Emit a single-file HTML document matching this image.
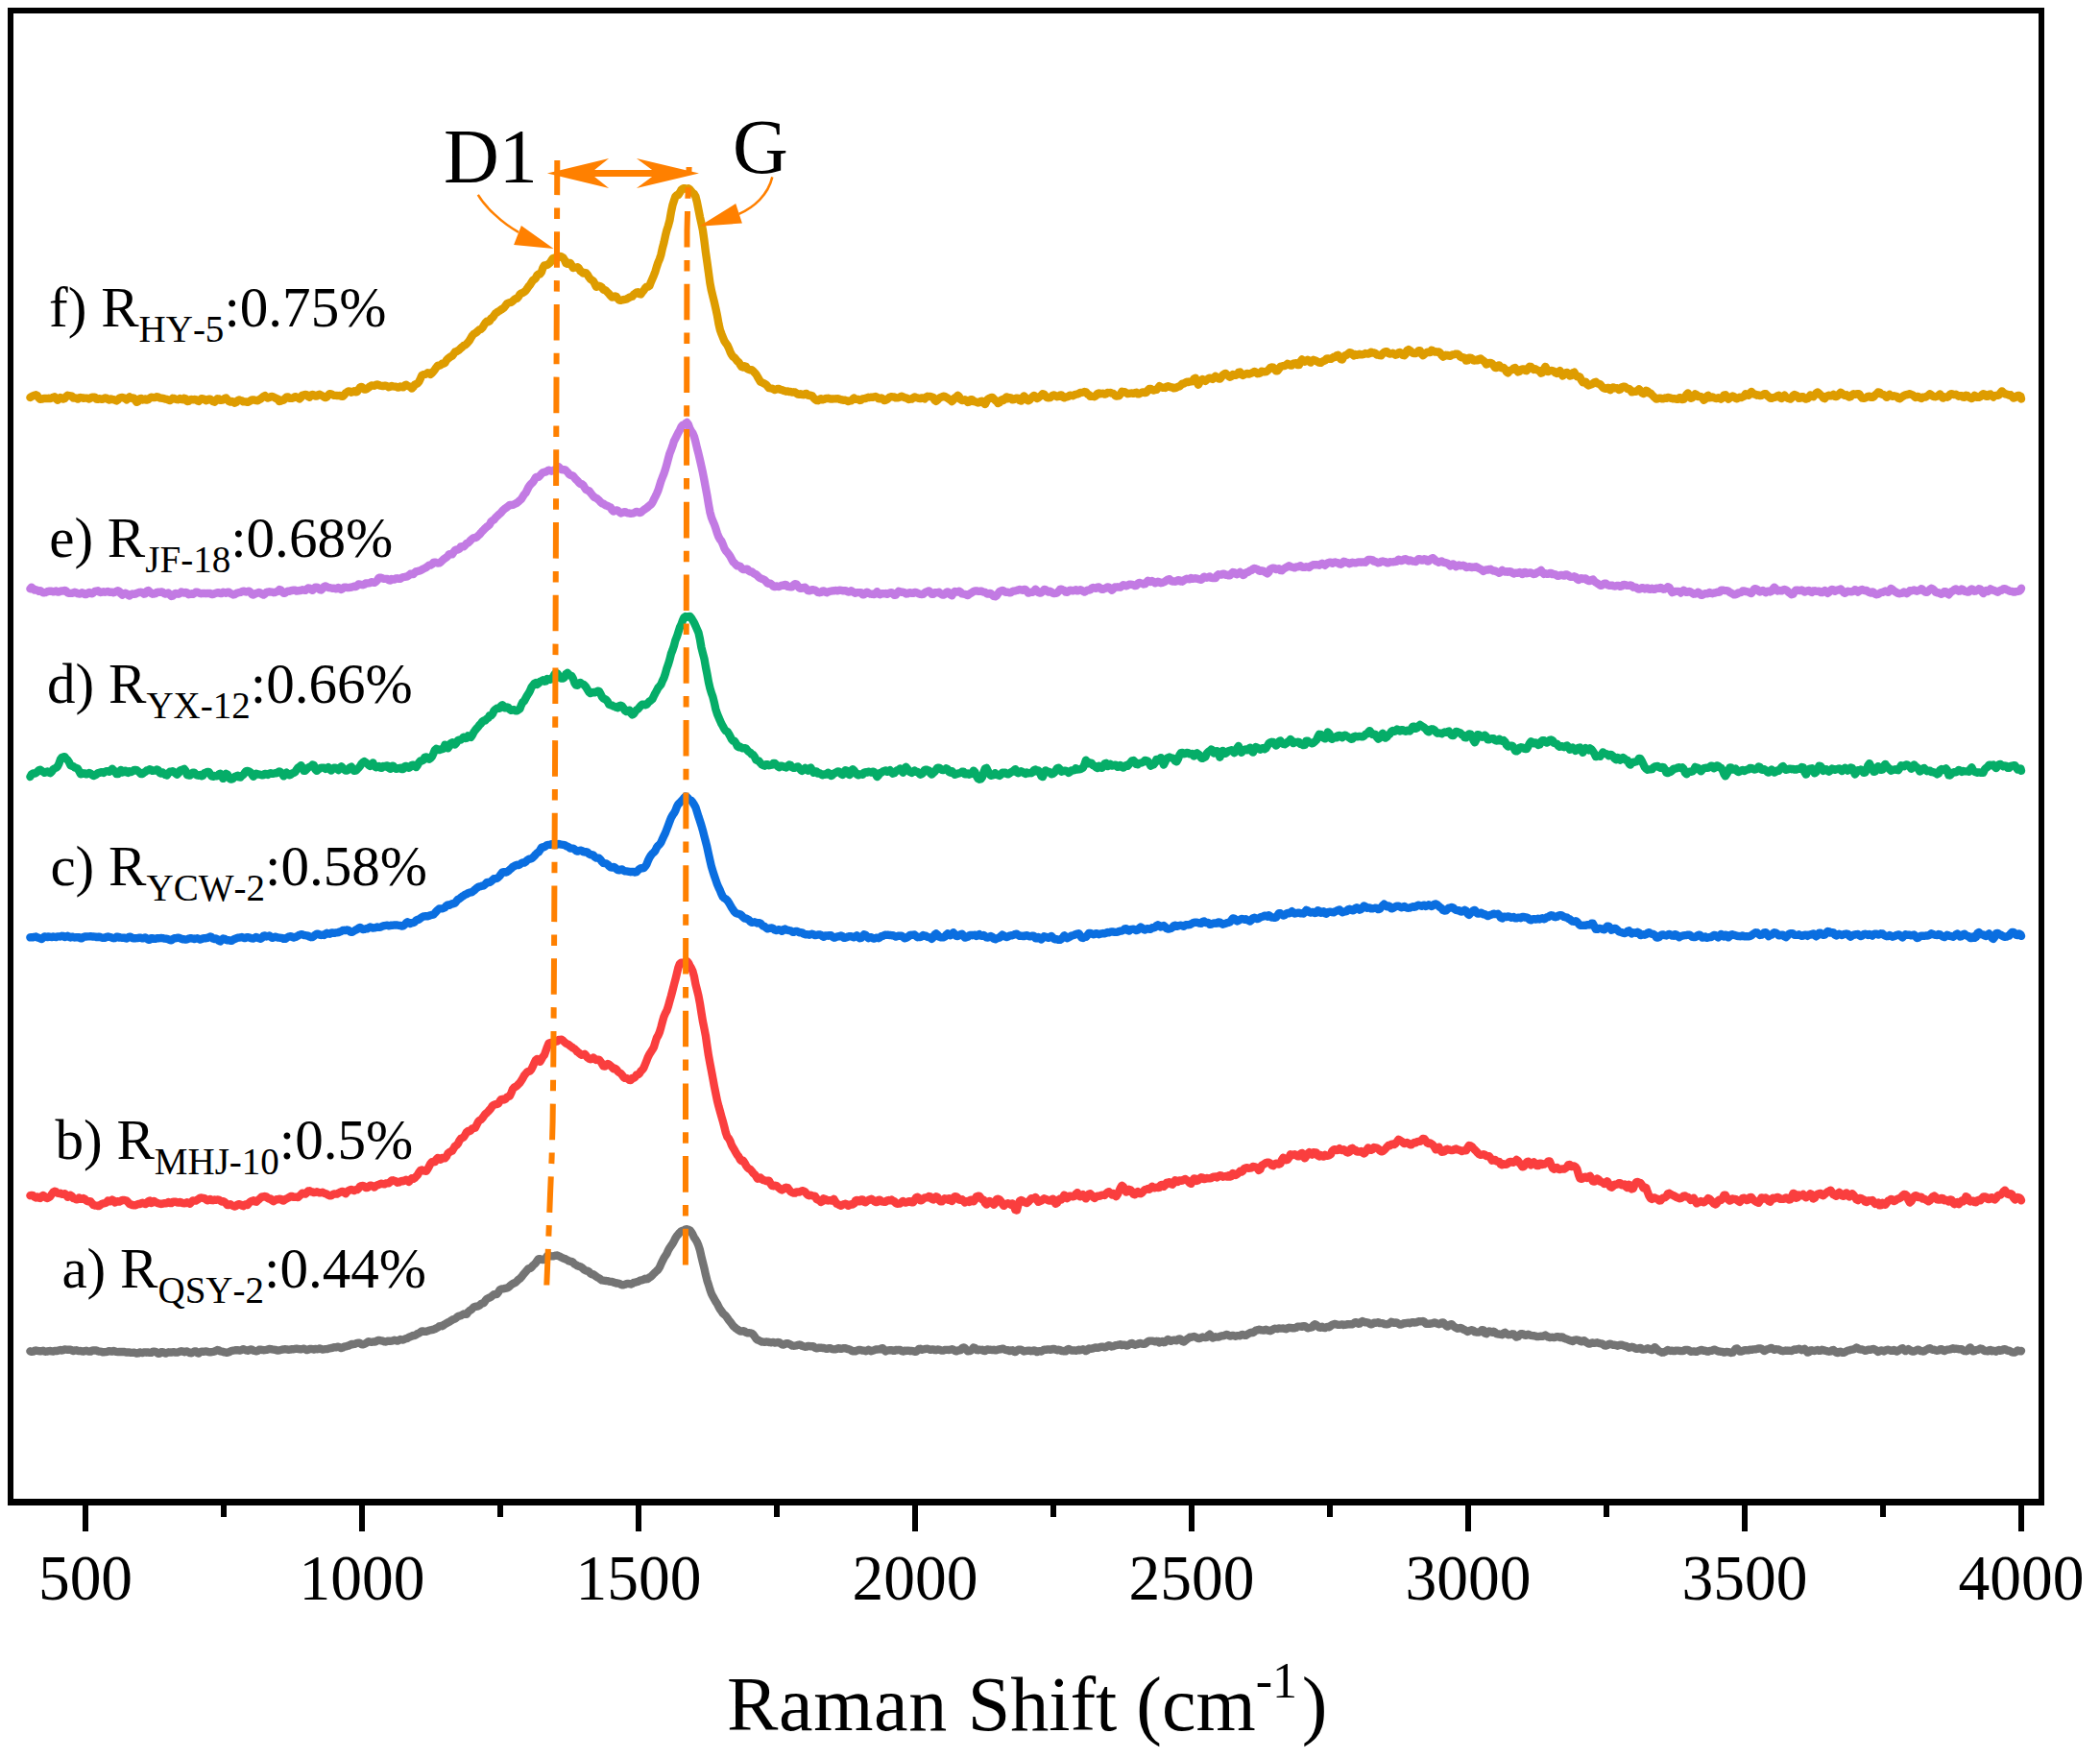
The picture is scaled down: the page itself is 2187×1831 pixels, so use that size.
<!DOCTYPE html>
<html lang="en"><head><meta charset="utf-8"><title>Raman Shift</title>
<style>html,body{margin:0;padding:0;background:#fff;}body{width:2187px;height:1831px;overflow:hidden;}svg{display:block;}text{font-kerning:none;font-family:"Liberation Serif",serif;fill:#000;}</style>
</head><body>
<svg width="2187" height="1831" viewBox="0 0 2187 1831">
<rect width="2187" height="1831" fill="#fff"/>
<g fill="none" stroke-width="8.4" stroke-linecap="round" stroke-linejoin="round">
<path stroke="#747474" d="M31.4,1407.3 32.9,1407.9 34.4,1407.7 35.9,1406.9 37.4,1406.5 38.9,1406.8 40.4,1407.2 41.9,1407.4 43.4,1407.1 44.9,1406.8 46.4,1407.6 47.9,1407.7 49.4,1407.5 50.9,1407.1 52.4,1407.0 53.9,1407.4 55.4,1407.5 56.9,1407.0 58.4,1407.0 59.9,1407.0 61.4,1406.3 62.9,1406.0 64.4,1406.5 65.9,1406.1 67.4,1405.5 68.9,1405.7 70.4,1405.9 71.9,1405.6 73.4,1405.6 74.9,1406.5 76.4,1407.0 77.9,1406.5 79.4,1406.3 80.9,1406.8 82.4,1407.1 83.9,1407.0 85.4,1407.4 86.9,1407.6 88.4,1407.1 89.9,1406.8 91.4,1407.2 92.9,1407.6 94.4,1407.6 95.9,1406.7 97.4,1406.5 98.9,1406.4 100.4,1406.4 101.9,1407.2 103.4,1407.6 104.9,1407.6 106.4,1408.2 107.9,1408.3 109.4,1408.1 110.9,1408.0 112.4,1407.6 113.9,1407.1 115.4,1407.5 116.9,1407.5 118.4,1406.9 119.9,1407.4 121.4,1407.9 122.9,1408.1 124.4,1407.9 125.9,1408.0 127.4,1408.0 128.9,1407.9 130.4,1408.3 131.9,1408.5 133.4,1408.4 134.9,1408.5 136.4,1408.9 137.9,1408.9 139.4,1408.6 140.9,1409.0 142.4,1409.6 143.9,1409.4 145.4,1408.4 146.9,1408.8 148.4,1409.0 149.9,1408.5 151.4,1408.4 152.9,1408.7 154.4,1408.5 155.9,1408.9 157.4,1408.9 158.9,1407.9 160.4,1407.6 161.9,1407.8 163.4,1408.8 164.9,1409.9 166.4,1409.6 167.9,1408.1 169.4,1408.1 170.9,1409.1 172.4,1409.6 173.9,1408.9 175.4,1408.3 176.9,1408.5 178.4,1408.5 179.9,1408.3 181.4,1408.2 182.9,1408.6 184.4,1408.6 185.9,1408.2 187.4,1407.6 188.9,1407.2 190.4,1407.6 191.9,1408.2 193.4,1407.7 194.9,1407.5 196.4,1408.4 197.9,1409.1 199.4,1409.2 200.9,1408.4 202.4,1407.4 203.9,1407.5 205.4,1409.0 206.9,1409.5 208.4,1408.2 209.9,1407.7 211.4,1407.9 212.9,1407.6 214.4,1407.5 215.9,1407.7 217.4,1408.1 218.9,1408.4 220.4,1408.1 221.9,1407.9 223.4,1407.5 224.9,1406.9 226.4,1406.0 227.9,1406.3 229.4,1407.4 230.9,1407.6 232.4,1407.9 233.9,1408.4 235.4,1408.7 236.9,1408.7 238.4,1408.3 239.9,1407.5 241.4,1406.8 242.9,1406.6 244.4,1406.4 245.9,1406.1 247.4,1406.2 248.9,1406.5 250.4,1406.5 251.9,1405.8 253.4,1405.2 254.9,1405.8 256.4,1406.4 257.9,1406.7 259.4,1406.2 260.9,1405.4 262.4,1405.6 263.9,1406.7 265.4,1407.0 266.9,1407.3 268.4,1407.0 269.9,1405.8 271.4,1405.7 272.9,1406.0 274.4,1406.2 275.9,1406.1 277.4,1405.9 278.9,1405.4 280.4,1404.9 281.9,1405.1 283.4,1405.4 284.9,1405.6 286.4,1405.8 287.9,1406.3 289.4,1406.5 290.9,1406.3 292.4,1406.0 293.9,1405.7 295.4,1405.4 296.9,1405.3 298.4,1405.4 299.9,1405.7 301.4,1405.7 302.9,1405.5 304.4,1405.1 305.9,1405.3 307.4,1404.9 308.9,1404.7 310.4,1405.0 311.9,1405.2 313.4,1405.3 314.9,1405.0 316.4,1404.7 317.9,1405.3 319.4,1406.1 320.9,1405.7 322.4,1405.0 323.9,1404.9 325.4,1405.1 326.9,1405.6 328.4,1405.0 329.9,1405.2 331.4,1405.1 332.9,1404.5 334.4,1405.0 335.9,1405.5 337.4,1405.3 338.9,1405.1 340.4,1405.1 341.9,1404.7 343.4,1404.3 344.9,1404.0 346.4,1403.8 347.9,1403.3 349.4,1403.4 350.9,1402.9 352.4,1402.6 353.9,1403.4 355.4,1404.1 356.9,1403.6 358.4,1402.7 359.9,1402.4 361.4,1401.9 362.9,1401.6 364.4,1400.9 365.9,1400.0 367.4,1400.2 368.9,1399.9 370.4,1399.4 371.9,1398.8 373.4,1398.6 374.9,1399.1 376.4,1400.1 377.9,1400.4 379.4,1399.8 380.9,1399.2 382.4,1398.1 383.9,1397.2 385.4,1397.6 386.9,1397.8 388.4,1397.5 389.9,1397.5 391.4,1397.3 392.9,1396.3 394.4,1395.9 395.9,1396.2 397.4,1396.5 398.9,1396.7 400.4,1397.4 401.9,1397.5 403.4,1396.8 404.9,1396.7 406.4,1396.9 407.9,1396.7 409.4,1396.3 410.9,1395.8 412.4,1396.2 413.9,1396.6 415.4,1395.9 416.9,1395.0 418.4,1395.3 419.9,1395.5 421.4,1394.8 422.9,1394.1 424.4,1393.8 425.9,1392.8 427.4,1392.3 428.9,1391.6 430.4,1390.9 431.9,1391.0 433.4,1390.1 434.9,1389.0 436.4,1388.6 437.9,1387.6 439.4,1386.4 440.9,1386.5 442.4,1386.9 443.9,1386.8 445.4,1386.3 446.9,1385.7 448.4,1385.3 449.9,1385.0 451.4,1384.8 452.9,1384.1 454.4,1383.4 455.9,1382.6 457.4,1381.3 458.9,1381.0 460.4,1381.2 461.9,1380.3 463.4,1379.1 464.9,1378.3 466.4,1377.4 467.9,1376.7 469.4,1375.7 470.9,1374.8 472.4,1374.0 473.9,1373.7 475.4,1372.4 476.9,1371.0 478.4,1370.6 479.9,1370.2 481.4,1369.4 482.9,1368.5 484.4,1368.9 485.9,1368.8 487.4,1366.6 488.9,1365.2 490.4,1364.3 491.9,1363.0 493.4,1361.4 494.9,1360.8 496.4,1360.8 497.9,1360.4 499.4,1359.6 500.9,1358.0 502.4,1357.5 503.9,1357.0 505.4,1354.7 506.9,1352.9 508.4,1352.1 509.9,1351.5 511.4,1350.8 512.9,1349.4 514.4,1348.1 515.9,1348.0 517.4,1348.1 518.9,1346.1 520.4,1343.5 521.9,1342.7 523.4,1342.4 524.9,1342.1 526.4,1341.7 527.9,1341.6 529.4,1340.8 530.9,1339.5 532.4,1338.2 533.9,1337.1 535.4,1336.4 536.9,1335.7 538.4,1334.3 539.9,1332.8 541.4,1331.8 542.9,1330.2 544.4,1328.2 545.9,1326.3 547.4,1324.7 548.9,1322.8 550.4,1321.2 551.9,1321.1 553.4,1320.0 554.9,1318.2 556.4,1316.9 557.9,1315.3 559.4,1313.1 560.9,1311.2 562.4,1311.2 563.9,1311.8 565.4,1312.1 566.9,1311.8 568.4,1310.4 569.9,1308.2 571.4,1307.3 572.9,1308.0 574.4,1308.4 575.9,1308.4 577.4,1308.0 578.9,1307.6 580.4,1307.5 581.9,1308.2 583.4,1308.9 584.9,1309.7 586.4,1310.4 587.9,1310.9 589.4,1311.6 590.9,1312.4 592.4,1313.3 593.9,1313.8 595.4,1313.9 596.9,1315.0 598.4,1316.6 599.9,1317.4 601.4,1318.3 602.9,1318.9 604.4,1319.3 605.9,1320.1 607.4,1321.5 608.9,1322.8 610.4,1323.5 611.9,1323.7 613.4,1324.6 614.9,1326.3 616.4,1327.3 617.9,1327.2 619.4,1328.4 620.9,1329.5 622.4,1330.5 623.9,1331.2 625.4,1332.4 626.9,1333.4 628.4,1333.6 629.9,1333.8 631.4,1334.0 632.9,1334.1 634.4,1334.7 635.9,1334.9 637.4,1335.0 638.9,1335.5 640.4,1336.1 641.9,1336.6 643.4,1336.5 644.9,1336.8 646.4,1337.7 647.9,1338.2 649.4,1338.2 650.9,1337.8 652.4,1337.2 653.9,1336.9 655.4,1337.2 656.9,1337.5 658.4,1336.9 659.9,1335.9 661.4,1335.6 662.9,1335.2 664.4,1334.9 665.9,1334.0 667.4,1333.4 668.9,1333.3 670.4,1332.6 671.9,1331.8 673.4,1332.2 674.9,1332.0 676.4,1330.4 677.9,1329.7 679.4,1328.1 680.9,1326.5 682.4,1325.1 683.9,1323.6 685.4,1322.4 686.9,1319.9 688.4,1316.6 689.9,1313.3 691.4,1310.3 692.9,1308.0 694.4,1305.7 695.9,1302.3 697.4,1299.6 698.9,1297.5 700.4,1295.3 701.9,1292.7 703.4,1289.6 704.9,1287.3 706.4,1285.6 707.9,1283.7 709.4,1282.3 710.9,1281.9 712.4,1281.3 713.9,1280.4 715.4,1280.3 716.9,1280.7 718.4,1281.3 719.9,1283.1 721.4,1285.7 722.9,1288.9 724.4,1291.0 725.9,1293.6 727.4,1297.2 728.9,1301.9 730.4,1308.6 731.9,1314.8 733.4,1320.7 734.9,1327.6 736.4,1333.6 737.9,1338.1 739.4,1343.1 740.9,1347.3 742.4,1350.3 743.9,1353.1 745.4,1355.8 746.9,1357.9 748.4,1361.0 749.9,1363.7 751.4,1365.6 752.9,1367.9 754.4,1369.3 755.9,1370.5 757.4,1372.7 758.9,1374.8 760.4,1376.7 761.9,1378.6 763.4,1380.7 764.9,1382.2 766.4,1383.5 767.9,1384.5 769.4,1385.6 770.9,1386.6 772.4,1386.6 773.9,1386.2 775.4,1386.5 776.9,1387.7 778.4,1388.2 779.9,1388.1 781.4,1388.3 782.9,1388.7 784.4,1390.0 785.9,1392.0 787.4,1394.3 788.9,1395.6 790.4,1396.1 791.9,1396.9 793.4,1397.5 794.9,1397.6 796.4,1397.8 797.9,1397.5 799.4,1397.6 800.9,1398.0 802.4,1398.2 803.9,1398.2 805.4,1398.0 806.9,1398.5 808.4,1398.3 809.9,1398.0 811.4,1398.1 812.9,1399.3 814.4,1400.3 815.9,1400.5 817.4,1400.0 818.9,1399.1 820.4,1399.2 821.9,1399.8 823.4,1400.5 824.9,1401.5 826.4,1401.7 827.9,1401.6 829.4,1401.4 830.9,1400.8 832.4,1400.5 833.9,1400.9 835.4,1401.8 836.9,1402.3 838.4,1402.7 839.9,1402.6 841.4,1401.9 842.9,1402.0 844.4,1402.3 845.9,1402.1 847.4,1402.6 848.9,1403.8 850.4,1404.3 851.9,1404.1 853.4,1403.6 854.9,1403.6 856.4,1404.0 857.9,1404.0 859.4,1404.5 860.9,1404.9 862.4,1404.4 863.9,1404.1 865.4,1404.6 866.9,1405.2 868.4,1405.4 869.9,1405.3 871.4,1405.0 872.9,1404.2 874.4,1404.4 875.9,1404.9 877.4,1404.5 878.9,1404.1 880.4,1404.2 881.9,1404.7 883.4,1405.2 884.9,1405.5 886.4,1406.5 887.9,1407.3 889.4,1407.2 890.9,1407.3 892.4,1406.7 893.9,1406.0 895.4,1406.0 896.9,1406.2 898.4,1406.6 899.9,1406.6 901.4,1407.2 902.9,1406.7 904.4,1405.8 905.9,1406.7 907.4,1407.3 908.9,1406.6 910.4,1406.2 911.9,1405.5 913.4,1405.5 914.9,1405.4 916.4,1405.4 917.9,1404.4 919.4,1404.2 920.9,1406.2 922.4,1407.4 923.9,1406.6 925.4,1406.4 926.9,1406.2 928.4,1406.1 929.9,1406.8 931.4,1406.9 932.9,1406.0 934.4,1406.2 935.9,1406.0 937.4,1405.9 938.9,1407.2 940.4,1407.5 941.9,1406.7 943.4,1407.0 944.9,1406.6 946.4,1406.6 947.9,1407.2 949.4,1407.0 950.9,1407.1 952.4,1407.8 953.9,1407.8 955.4,1406.7 956.9,1405.0 958.4,1404.8 959.9,1405.8 961.4,1405.5 962.9,1405.2 964.4,1404.9 965.9,1404.8 967.4,1405.2 968.9,1405.9 970.4,1405.4 971.9,1405.4 973.4,1406.0 974.9,1406.2 976.4,1405.5 977.9,1405.6 979.4,1406.2 980.9,1406.6 982.4,1406.5 983.9,1406.0 985.4,1405.9 986.9,1405.9 988.4,1406.0 989.9,1405.7 991.4,1405.3 992.9,1405.8 994.4,1406.8 995.9,1407.4 997.4,1406.5 998.9,1406.5 1000.4,1406.2 1001.9,1404.2 1003.4,1403.4 1004.9,1404.1 1006.4,1405.9 1007.9,1407.4 1009.4,1407.2 1010.9,1406.7 1012.4,1405.3 1013.9,1403.6 1015.4,1404.0 1016.9,1406.0 1018.4,1406.2 1019.9,1405.7 1021.4,1406.0 1022.9,1405.8 1024.4,1406.9 1025.9,1407.1 1027.4,1405.8 1028.9,1405.4 1030.4,1405.9 1031.9,1405.8 1033.4,1406.0 1034.9,1405.8 1036.4,1406.3 1037.9,1406.2 1039.4,1405.6 1040.9,1405.3 1042.4,1405.2 1043.9,1404.6 1045.4,1405.1 1046.9,1405.9 1048.4,1406.2 1049.9,1406.3 1051.4,1407.1 1052.9,1406.5 1054.4,1406.3 1055.9,1407.7 1057.4,1408.1 1058.9,1406.7 1060.4,1405.8 1061.9,1405.8 1063.4,1405.8 1064.9,1406.5 1066.4,1407.5 1067.9,1407.2 1069.4,1406.8 1070.9,1406.6 1072.4,1406.7 1073.9,1407.2 1075.4,1407.0 1076.9,1406.4 1078.4,1407.0 1079.9,1408.1 1081.4,1407.4 1082.9,1407.1 1084.4,1407.6 1085.9,1406.6 1087.4,1405.7 1088.9,1405.9 1090.4,1405.4 1091.9,1405.4 1093.4,1405.8 1094.9,1405.6 1096.4,1405.0 1097.9,1405.0 1099.4,1405.6 1100.9,1406.3 1102.4,1405.7 1103.9,1406.1 1105.4,1407.1 1106.9,1406.9 1108.4,1407.4 1109.9,1407.3 1111.4,1405.7 1112.9,1404.9 1114.4,1405.7 1115.9,1406.5 1117.4,1406.5 1118.9,1406.4 1120.4,1406.8 1121.9,1406.5 1123.4,1405.7 1124.9,1406.2 1126.4,1405.9 1127.9,1405.2 1129.4,1405.9 1130.9,1407.1 1132.4,1406.3 1133.9,1404.5 1135.4,1404.6 1136.9,1404.8 1138.4,1404.4 1139.9,1403.6 1141.4,1403.4 1142.9,1403.9 1144.4,1403.4 1145.9,1402.9 1147.4,1402.7 1148.9,1402.8 1150.4,1403.4 1151.9,1403.0 1153.4,1401.8 1154.9,1401.2 1156.4,1401.7 1157.9,1402.5 1159.4,1402.2 1160.9,1401.6 1162.4,1401.1 1163.9,1400.9 1165.4,1400.5 1166.9,1400.2 1168.4,1401.1 1169.9,1400.6 1171.4,1400.6 1172.9,1401.6 1174.4,1401.3 1175.9,1400.4 1177.4,1399.4 1178.9,1399.0 1180.4,1400.1 1181.9,1400.7 1183.4,1400.2 1184.9,1400.1 1186.4,1399.1 1187.9,1398.9 1189.4,1399.7 1190.9,1399.9 1192.4,1399.6 1193.9,1398.5 1195.4,1397.3 1196.9,1396.6 1198.4,1396.6 1199.9,1396.6 1201.4,1396.8 1202.9,1397.4 1204.4,1396.8 1205.9,1397.0 1207.4,1398.4 1208.9,1397.4 1210.4,1396.9 1211.9,1398.2 1213.4,1398.0 1214.9,1396.1 1216.4,1395.0 1217.9,1395.7 1219.4,1396.8 1220.9,1396.2 1222.4,1395.6 1223.9,1396.1 1225.4,1396.2 1226.9,1395.0 1228.4,1394.4 1229.9,1395.1 1231.4,1397.1 1232.9,1397.6 1234.4,1396.3 1235.9,1395.1 1237.4,1394.1 1238.9,1392.8 1240.4,1392.9 1241.9,1392.3 1243.4,1392.0 1244.9,1392.5 1246.4,1393.2 1247.9,1394.0 1249.4,1394.0 1250.9,1393.2 1252.4,1392.5 1253.9,1392.8 1255.4,1393.0 1256.9,1392.8 1258.4,1390.9 1259.9,1389.7 1261.4,1391.4 1262.9,1393.5 1264.4,1393.0 1265.9,1392.3 1267.4,1392.6 1268.9,1392.6 1270.4,1392.0 1271.9,1391.4 1273.4,1391.3 1274.9,1391.1 1276.4,1390.3 1277.9,1389.9 1279.4,1390.7 1280.9,1391.5 1282.4,1391.3 1283.9,1390.9 1285.4,1391.3 1286.9,1391.8 1288.4,1391.1 1289.9,1391.1 1291.4,1391.2 1292.9,1390.2 1294.4,1390.0 1295.9,1390.7 1297.4,1390.8 1298.9,1389.9 1300.4,1389.0 1301.9,1388.2 1303.4,1387.6 1304.9,1388.0 1306.4,1387.0 1307.9,1385.7 1309.4,1385.4 1310.9,1384.8 1312.4,1384.9 1313.9,1385.4 1315.4,1385.5 1316.9,1385.6 1318.4,1384.8 1319.9,1385.2 1321.4,1385.9 1322.9,1386.2 1324.4,1385.5 1325.9,1384.5 1327.4,1383.8 1328.9,1383.9 1330.4,1384.0 1331.9,1383.5 1333.4,1383.6 1334.9,1383.6 1336.4,1383.5 1337.9,1383.9 1339.4,1384.3 1340.9,1383.2 1342.4,1382.8 1343.9,1383.0 1345.4,1383.2 1346.9,1383.2 1348.4,1383.2 1349.9,1382.8 1351.4,1381.7 1352.9,1381.6 1354.4,1381.6 1355.9,1381.8 1357.4,1381.2 1358.9,1381.2 1360.4,1382.3 1361.9,1383.3 1363.4,1383.0 1364.9,1382.7 1366.4,1382.3 1367.9,1380.4 1369.4,1379.2 1370.9,1380.0 1372.4,1381.2 1373.9,1382.6 1375.4,1382.7 1376.9,1381.8 1378.4,1382.9 1379.9,1383.1 1381.4,1382.2 1382.9,1382.0 1384.4,1382.3 1385.9,1380.9 1387.4,1379.7 1388.9,1379.3 1390.4,1378.9 1391.9,1379.5 1393.4,1379.8 1394.9,1379.9 1396.4,1379.7 1397.9,1379.4 1399.4,1380.0 1400.9,1379.7 1402.4,1379.6 1403.9,1379.1 1405.4,1379.3 1406.9,1379.3 1408.4,1379.2 1409.9,1378.2 1411.4,1377.1 1412.9,1377.6 1414.4,1378.7 1415.9,1378.6 1417.4,1376.9 1418.9,1376.0 1420.4,1376.7 1421.9,1377.3 1423.4,1377.3 1424.9,1377.6 1426.4,1378.8 1427.9,1379.4 1429.4,1378.8 1430.9,1377.8 1432.4,1377.8 1433.9,1377.5 1435.4,1377.2 1436.9,1378.1 1438.4,1378.1 1439.9,1378.1 1441.4,1379.0 1442.9,1379.2 1444.4,1379.2 1445.9,1379.1 1447.4,1378.1 1448.9,1376.8 1450.4,1377.2 1451.9,1377.9 1453.4,1377.5 1454.9,1377.7 1456.4,1378.7 1457.9,1379.6 1459.4,1379.6 1460.9,1378.8 1462.4,1378.1 1463.9,1378.2 1465.4,1377.9 1466.9,1377.7 1468.4,1378.2 1469.9,1377.6 1471.4,1377.1 1472.9,1377.6 1474.4,1377.4 1475.9,1376.9 1477.4,1376.2 1478.9,1376.4 1480.4,1376.3 1481.9,1376.0 1483.4,1376.8 1484.9,1378.7 1486.4,1378.7 1487.9,1378.6 1489.4,1378.8 1490.9,1378.4 1492.4,1377.9 1493.9,1377.4 1495.4,1378.0 1496.9,1378.6 1498.4,1379.2 1499.9,1378.8 1501.4,1377.7 1502.9,1377.4 1504.4,1378.8 1505.9,1380.7 1507.4,1381.5 1508.9,1380.9 1510.4,1379.3 1511.9,1379.1 1513.4,1380.9 1514.9,1382.2 1516.4,1382.9 1517.9,1383.7 1519.4,1383.5 1520.9,1383.0 1522.4,1383.5 1523.9,1384.5 1525.4,1385.1 1526.9,1386.0 1528.4,1386.9 1529.9,1386.2 1531.4,1385.5 1532.9,1385.2 1534.4,1385.9 1535.9,1387.1 1537.4,1387.5 1538.9,1387.4 1540.4,1387.5 1541.9,1386.8 1543.4,1385.1 1544.9,1385.4 1546.4,1388.6 1547.9,1389.2 1549.4,1387.7 1550.9,1386.4 1552.4,1387.0 1553.9,1387.7 1555.4,1386.7 1556.9,1387.6 1558.4,1389.2 1559.9,1389.5 1561.4,1389.5 1562.9,1389.9 1564.4,1390.2 1565.9,1388.5 1567.4,1387.8 1568.9,1389.1 1570.4,1390.2 1571.9,1390.1 1573.4,1390.0 1574.9,1389.3 1576.4,1389.5 1577.9,1391.4 1579.4,1392.6 1580.9,1392.1 1582.4,1390.4 1583.9,1389.1 1585.4,1389.1 1586.9,1390.1 1588.4,1390.9 1589.9,1390.6 1591.4,1389.8 1592.9,1390.3 1594.4,1390.9 1595.9,1391.1 1597.4,1391.2 1598.9,1391.5 1600.4,1392.0 1601.9,1392.1 1603.4,1391.9 1604.9,1391.7 1606.4,1391.9 1607.9,1391.3 1609.4,1390.6 1610.9,1391.7 1612.4,1392.6 1613.9,1393.1 1615.4,1392.9 1616.9,1392.8 1618.4,1393.0 1619.9,1392.8 1621.4,1392.1 1622.9,1392.1 1624.4,1393.1 1625.9,1392.4 1627.4,1392.7 1628.9,1393.8 1630.4,1394.4 1631.9,1394.8 1633.4,1395.5 1634.9,1396.0 1636.4,1396.6 1637.9,1397.1 1639.4,1395.8 1640.9,1395.5 1642.4,1395.5 1643.9,1395.8 1645.4,1396.8 1646.9,1397.3 1648.4,1396.4 1649.9,1396.3 1651.4,1397.5 1652.9,1398.6 1654.4,1399.6 1655.9,1399.5 1657.4,1398.7 1658.9,1398.5 1660.4,1398.8 1661.9,1398.6 1663.4,1398.3 1664.9,1398.9 1666.4,1399.3 1667.9,1399.4 1669.4,1400.1 1670.9,1401.4 1672.4,1401.6 1673.9,1401.1 1675.4,1400.0 1676.9,1399.6 1678.4,1400.2 1679.9,1400.7 1681.4,1400.7 1682.9,1401.1 1684.4,1401.7 1685.9,1401.3 1687.4,1400.6 1688.9,1400.7 1690.4,1401.3 1691.9,1401.8 1693.4,1401.9 1694.9,1402.8 1696.4,1403.7 1697.9,1403.4 1699.4,1402.8 1700.9,1403.1 1702.4,1404.0 1703.9,1404.8 1705.4,1404.9 1706.9,1404.1 1708.4,1403.9 1709.9,1405.3 1711.4,1405.6 1712.9,1405.4 1714.4,1404.9 1715.9,1404.3 1717.4,1404.7 1718.9,1405.6 1720.4,1406.1 1721.9,1404.7 1723.4,1403.1 1724.9,1404.5 1726.4,1406.3 1727.9,1407.3 1729.4,1407.9 1730.9,1408.7 1732.4,1408.5 1733.9,1407.9 1735.4,1406.9 1736.9,1405.9 1738.4,1406.7 1739.9,1407.0 1741.4,1406.7 1742.9,1407.1 1744.4,1407.1 1745.9,1406.6 1747.4,1406.6 1748.9,1406.8 1750.4,1407.1 1751.9,1407.1 1753.4,1406.8 1754.9,1405.9 1756.4,1405.9 1757.9,1405.9 1759.4,1406.7 1760.9,1407.7 1762.4,1407.6 1763.9,1407.4 1765.4,1407.8 1766.9,1407.9 1768.4,1407.0 1769.9,1406.7 1771.4,1405.9 1772.9,1406.2 1774.4,1406.8 1775.9,1406.8 1777.4,1407.5 1778.9,1407.7 1780.4,1406.9 1781.9,1406.9 1783.4,1406.4 1784.9,1405.6 1786.4,1406.1 1787.9,1406.8 1789.4,1407.5 1790.9,1407.5 1792.4,1407.9 1793.9,1408.0 1795.4,1408.6 1796.9,1408.3 1798.4,1407.9 1799.9,1408.1 1801.4,1408.5 1802.9,1409.0 1804.4,1408.7 1805.9,1406.9 1807.4,1405.0 1808.9,1404.4 1810.4,1406.0 1811.9,1407.5 1813.4,1407.5 1814.9,1407.0 1816.4,1406.4 1817.9,1406.1 1819.4,1406.4 1820.9,1406.3 1822.4,1405.7 1823.9,1405.9 1825.4,1405.4 1826.9,1405.4 1828.4,1405.3 1829.9,1405.0 1831.4,1404.4 1832.9,1404.4 1834.4,1404.8 1835.9,1405.8 1837.4,1407.1 1838.9,1406.3 1840.4,1405.3 1841.9,1405.0 1843.4,1404.3 1844.9,1403.9 1846.4,1405.2 1847.9,1405.8 1849.4,1405.3 1850.9,1405.4 1852.4,1405.5 1853.9,1406.2 1855.4,1406.9 1856.9,1407.2 1858.4,1406.9 1859.9,1406.5 1861.4,1406.8 1862.9,1406.7 1864.4,1406.9 1865.9,1407.0 1867.4,1406.1 1868.9,1405.5 1870.4,1405.8 1871.9,1405.2 1873.4,1404.8 1874.9,1405.3 1876.4,1406.2 1877.9,1405.6 1879.4,1404.9 1880.9,1406.8 1882.4,1408.6 1883.9,1408.2 1885.4,1406.5 1886.9,1406.3 1888.4,1406.9 1889.9,1407.0 1891.4,1406.3 1892.9,1406.0 1894.4,1406.9 1895.9,1406.9 1897.4,1405.8 1898.9,1406.1 1900.4,1406.7 1901.9,1407.0 1903.4,1407.4 1904.9,1407.7 1906.4,1407.4 1907.9,1406.4 1909.4,1406.0 1910.9,1407.4 1912.4,1408.9 1913.9,1409.0 1915.4,1407.9 1916.9,1407.8 1918.4,1408.8 1919.9,1408.9 1921.4,1408.2 1922.9,1407.4 1924.4,1406.6 1925.9,1406.4 1927.4,1405.8 1928.9,1405.6 1930.4,1405.4 1931.9,1404.5 1933.4,1403.6 1934.9,1404.3 1936.4,1405.4 1937.9,1405.5 1939.4,1405.5 1940.9,1406.2 1942.4,1406.8 1943.9,1406.6 1945.4,1405.8 1946.9,1405.8 1948.4,1405.7 1949.9,1405.1 1951.4,1405.0 1952.9,1405.7 1954.4,1406.7 1955.9,1407.9 1957.4,1407.2 1958.9,1406.4 1960.4,1406.8 1961.9,1407.4 1963.4,1406.4 1964.9,1405.9 1966.4,1405.8 1967.9,1406.2 1969.4,1406.8 1970.9,1406.8 1972.4,1405.9 1973.9,1406.7 1975.4,1407.5 1976.9,1406.7 1978.4,1405.9 1979.9,1404.8 1981.4,1404.3 1982.9,1405.9 1984.4,1407.0 1985.9,1405.9 1987.4,1405.1 1988.9,1406.0 1990.4,1407.0 1991.9,1407.6 1993.4,1407.5 1994.9,1406.8 1996.4,1406.1 1997.9,1405.6 1999.4,1406.7 2000.9,1407.2 2002.4,1407.5 2003.9,1407.3 2005.4,1406.2 2006.9,1405.5 2008.4,1404.6 2009.9,1404.2 2011.4,1405.3 2012.9,1405.8 2014.4,1405.8 2015.9,1406.5 2017.4,1406.8 2018.9,1406.4 2020.4,1405.4 2021.9,1405.1 2023.4,1406.5 2024.9,1407.0 2026.4,1406.2 2027.9,1405.7 2029.4,1405.6 2030.9,1405.4 2032.4,1404.7 2033.9,1404.3 2035.4,1405.0 2036.9,1404.7 2038.4,1404.9 2039.9,1405.3 2041.4,1405.2 2042.9,1405.1 2044.4,1406.4 2045.9,1407.0 2047.4,1407.2 2048.9,1406.7 2050.4,1404.6 2051.9,1403.4 2053.4,1405.5 2054.9,1407.4 2056.4,1407.2 2057.9,1406.1 2059.4,1405.9 2060.9,1405.5 2062.4,1404.5 2063.9,1404.8 2065.4,1406.0 2066.9,1407.0 2068.4,1407.0 2069.9,1407.3 2071.4,1406.4 2072.9,1406.0 2074.4,1407.2 2075.9,1406.8 2077.4,1407.3 2078.9,1407.7 2080.4,1406.4 2081.9,1405.9 2083.4,1406.8 2084.9,1406.4 2086.4,1405.3 2087.9,1405.1 2089.4,1406.1 2090.9,1406.9 2092.4,1406.8 2093.9,1407.5 2095.4,1408.4 2096.9,1408.6 2098.4,1408.5 2099.9,1407.6 2101.4,1406.4 2102.9,1407.2 2104.4,1407.4 2105.0,1406.9"/>
<path stroke="#FA3E3E" d="M31.4,1245.2 32.9,1245.0 34.4,1245.2 35.9,1246.6 37.4,1247.5 38.9,1246.6 40.4,1247.7 41.9,1248.0 43.4,1246.1 44.9,1245.1 46.4,1246.1 47.9,1247.5 49.4,1248.0 50.9,1247.1 52.4,1246.0 53.9,1243.7 55.4,1241.7 56.9,1240.8 58.4,1241.3 59.9,1242.6 61.4,1243.0 62.9,1242.8 64.4,1243.8 65.9,1243.7 67.4,1243.2 68.9,1244.5 70.4,1246.8 71.9,1246.2 73.4,1244.8 74.9,1245.9 76.4,1248.1 77.9,1248.3 79.4,1249.4 80.9,1249.1 82.4,1247.5 83.9,1248.9 85.4,1248.9 86.9,1248.0 88.4,1248.9 89.9,1250.5 91.4,1251.2 92.9,1251.1 94.4,1251.4 95.9,1253.4 97.4,1255.1 98.9,1255.6 100.4,1255.6 101.9,1256.1 103.4,1256.0 104.9,1254.6 106.4,1253.8 107.9,1253.4 109.4,1253.2 110.9,1252.3 112.4,1250.6 113.9,1251.1 115.4,1251.3 116.9,1249.6 118.4,1250.4 119.9,1252.4 121.4,1251.5 122.9,1251.2 124.4,1251.6 125.9,1250.8 127.4,1250.0 128.9,1250.0 130.4,1250.2 131.9,1250.6 133.4,1252.2 134.9,1253.9 136.4,1254.4 137.9,1255.1 139.4,1255.3 140.9,1255.2 142.4,1254.7 143.9,1254.0 145.4,1254.1 146.9,1253.5 148.4,1252.7 149.9,1253.6 151.4,1254.1 152.9,1253.2 154.4,1251.2 155.9,1250.5 157.4,1252.9 158.9,1252.4 160.4,1251.0 161.9,1252.1 163.4,1252.7 164.9,1253.2 166.4,1253.6 167.9,1254.0 169.4,1253.6 170.9,1253.2 172.4,1253.3 173.9,1253.1 175.4,1252.1 176.9,1253.1 178.4,1253.1 179.9,1251.9 181.4,1251.6 182.9,1251.7 184.4,1252.3 185.9,1252.6 187.4,1251.9 188.9,1252.5 190.4,1253.1 191.9,1253.2 193.4,1253.1 194.9,1252.2 196.4,1252.9 197.9,1253.7 199.4,1251.8 200.9,1250.5 202.4,1250.6 203.9,1250.6 205.4,1249.7 206.9,1248.7 208.4,1247.6 209.9,1247.5 211.4,1247.8 212.9,1248.1 214.4,1249.3 215.9,1250.3 217.4,1249.4 218.9,1248.9 220.4,1250.0 221.9,1250.2 223.4,1249.5 224.9,1249.8 226.4,1249.5 227.9,1249.6 229.4,1250.5 230.9,1251.5 232.4,1251.2 233.9,1251.8 235.4,1253.4 236.9,1255.1 238.4,1255.1 239.9,1254.3 241.4,1255.3 242.9,1256.0 244.4,1256.5 245.9,1256.0 247.4,1254.5 248.9,1254.2 250.4,1254.5 251.9,1255.6 253.4,1256.2 254.9,1254.7 256.4,1254.2 257.9,1254.9 259.4,1252.8 260.9,1251.6 262.4,1250.9 263.9,1250.3 265.4,1251.4 266.9,1251.7 268.4,1250.2 269.9,1249.1 271.4,1247.6 272.9,1246.4 274.4,1246.6 275.9,1246.0 277.4,1246.3 278.9,1248.0 280.4,1248.7 281.9,1248.4 283.4,1250.2 284.9,1251.2 286.4,1250.1 287.9,1249.3 289.4,1249.2 290.9,1248.7 292.4,1248.9 293.9,1250.3 295.4,1250.5 296.9,1249.3 298.4,1248.5 299.9,1247.8 301.4,1247.0 302.9,1246.0 304.4,1245.9 305.9,1246.9 307.4,1246.6 308.9,1246.7 310.4,1247.1 311.9,1245.6 313.4,1244.2 314.9,1242.6 316.4,1242.8 317.9,1243.6 319.4,1242.4 320.9,1240.5 322.4,1240.3 323.9,1241.3 325.4,1241.4 326.9,1242.1 328.4,1241.9 329.9,1241.3 331.4,1241.7 332.9,1242.4 334.4,1242.1 335.9,1241.8 337.4,1242.7 338.9,1243.1 340.4,1243.7 341.9,1244.7 343.4,1245.3 344.9,1245.3 346.4,1244.2 347.9,1243.4 349.4,1243.6 350.9,1243.6 352.4,1242.7 353.9,1241.9 355.4,1241.2 356.9,1240.9 358.4,1242.1 359.9,1243.2 361.4,1241.4 362.9,1240.1 364.4,1239.5 365.9,1238.9 367.4,1239.4 368.9,1240.0 370.4,1239.2 371.9,1239.1 373.4,1237.9 374.9,1235.8 376.4,1235.1 377.9,1235.0 379.4,1235.5 380.9,1237.0 382.4,1237.1 383.9,1236.0 385.4,1234.7 386.9,1234.8 388.4,1235.4 389.9,1236.5 391.4,1235.2 392.9,1234.3 394.4,1233.9 395.9,1233.0 397.4,1232.7 398.9,1233.1 400.4,1233.4 401.9,1232.5 403.4,1232.3 404.9,1232.2 406.4,1231.0 407.9,1229.5 409.4,1229.3 410.9,1229.9 412.4,1230.5 413.9,1231.7 415.4,1231.4 416.9,1230.4 418.4,1229.9 419.9,1230.3 421.4,1229.6 422.9,1228.8 424.4,1229.8 425.9,1231.0 427.4,1228.8 428.9,1227.3 430.4,1227.9 431.9,1227.0 433.4,1225.3 434.9,1223.8 436.4,1220.9 437.9,1218.9 439.4,1218.4 440.9,1219.4 442.4,1219.6 443.9,1219.7 445.4,1217.6 446.9,1214.7 448.4,1211.8 449.9,1210.2 451.4,1210.3 452.9,1210.1 454.4,1207.4 455.9,1205.9 457.4,1207.6 458.9,1207.7 460.4,1206.0 461.9,1206.1 463.4,1206.4 464.9,1204.6 466.4,1201.5 467.9,1200.2 469.4,1199.3 470.9,1198.6 472.4,1196.3 473.9,1193.6 475.4,1192.8 476.9,1191.2 478.4,1187.9 479.9,1185.9 481.4,1185.2 482.9,1184.3 484.4,1182.0 485.9,1179.2 487.4,1178.0 488.9,1178.2 490.4,1177.3 491.9,1175.3 493.4,1175.0 494.9,1174.6 496.4,1171.6 497.9,1168.6 499.4,1166.9 500.9,1166.1 502.4,1164.5 503.9,1162.4 505.4,1160.3 506.9,1159.1 508.4,1157.6 509.9,1155.9 511.4,1154.2 512.9,1151.6 514.4,1150.8 515.9,1150.2 517.4,1150.1 518.9,1149.6 520.4,1147.1 521.9,1145.1 523.4,1144.8 524.9,1145.5 526.4,1144.8 527.9,1142.8 529.4,1142.1 530.9,1141.5 532.4,1138.3 533.9,1134.4 535.4,1132.6 536.9,1131.9 538.4,1130.8 539.9,1129.3 541.4,1127.8 542.9,1125.4 544.4,1123.1 545.9,1120.2 547.4,1118.4 548.9,1116.6 550.4,1115.9 551.9,1115.4 553.4,1113.7 554.9,1110.7 556.4,1107.2 557.9,1104.2 559.4,1102.9 560.9,1105.3 562.4,1105.8 563.9,1103.3 565.4,1100.5 566.9,1098.9 568.4,1094.7 569.9,1090.5 571.4,1086.7 572.9,1086.1 574.4,1087.6 575.9,1086.8 577.4,1084.7 578.9,1084.6 580.4,1084.5 581.9,1082.9 583.4,1082.9 584.9,1082.7 586.4,1083.9 587.9,1085.4 589.4,1086.7 590.9,1087.3 592.4,1088.2 593.9,1089.4 595.4,1090.4 596.9,1091.6 598.4,1092.4 599.9,1093.9 601.4,1095.6 602.9,1096.6 604.4,1098.0 605.9,1098.8 607.4,1098.4 608.9,1097.7 610.4,1099.5 611.9,1101.6 613.4,1102.6 614.9,1103.3 616.4,1102.9 617.9,1101.6 619.4,1102.8 620.9,1104.0 622.4,1103.6 623.9,1103.6 625.4,1105.5 626.9,1107.8 628.4,1110.4 629.9,1110.6 631.4,1108.9 632.9,1108.0 634.4,1108.8 635.9,1110.0 637.4,1111.5 638.9,1113.2 640.4,1112.7 641.9,1113.7 643.4,1115.8 644.9,1117.1 646.4,1117.9 647.9,1119.7 649.4,1121.9 650.9,1122.9 652.4,1123.0 653.9,1123.6 655.4,1124.9 656.9,1125.1 658.4,1123.0 659.9,1122.8 661.4,1121.9 662.9,1119.4 664.4,1119.3 665.9,1118.2 667.4,1115.6 668.9,1114.2 670.4,1112.2 671.9,1108.5 673.4,1104.7 674.9,1100.8 676.4,1097.8 677.9,1095.6 679.4,1093.3 680.9,1090.7 682.4,1085.7 683.9,1081.0 685.4,1078.5 686.9,1075.0 688.4,1069.8 689.9,1064.1 691.4,1058.8 692.9,1055.3 694.4,1052.7 695.9,1048.2 697.4,1042.7 698.9,1037.4 700.4,1031.6 701.9,1025.8 703.4,1020.2 704.9,1014.1 706.4,1007.7 707.9,1003.9 709.4,1002.6 710.9,1003.0 712.4,1002.9 713.9,1001.3 715.4,1001.1 716.9,1002.8 718.4,1005.7 719.9,1008.4 721.4,1011.5 722.9,1017.0 724.4,1025.0 725.9,1030.9 727.4,1036.9 728.9,1044.9 730.4,1054.5 731.9,1063.6 733.4,1071.0 734.9,1078.7 736.4,1089.3 737.9,1099.3 739.4,1107.6 740.9,1115.3 742.4,1123.2 743.9,1131.4 745.4,1138.8 746.9,1146.3 748.4,1152.2 749.9,1157.5 751.4,1163.0 752.9,1168.2 754.4,1173.8 755.9,1179.9 757.4,1184.1 758.9,1185.7 760.4,1188.5 761.9,1192.7 763.4,1195.3 764.9,1197.7 766.4,1200.6 767.9,1203.0 769.4,1204.8 770.9,1207.9 772.4,1209.1 773.9,1208.7 775.4,1211.0 776.9,1213.8 778.4,1216.0 779.9,1217.2 781.4,1218.0 782.9,1219.7 784.4,1221.8 785.9,1223.1 787.4,1225.1 788.9,1227.7 790.4,1227.4 791.9,1226.6 793.4,1228.0 794.9,1229.1 796.4,1229.3 797.9,1230.1 799.4,1229.7 800.9,1229.8 802.4,1232.7 803.9,1234.9 805.4,1235.3 806.9,1234.8 808.4,1234.9 809.9,1236.1 811.4,1237.5 812.9,1238.7 814.4,1239.4 815.9,1238.6 817.4,1237.3 818.9,1236.8 820.4,1237.1 821.9,1239.3 823.4,1241.1 824.9,1242.0 826.4,1242.5 827.9,1242.6 829.4,1241.4 830.9,1241.4 832.4,1241.5 833.9,1240.9 835.4,1240.1 836.9,1240.5 838.4,1241.2 839.9,1243.2 841.4,1244.7 842.9,1245.2 844.4,1244.6 845.9,1245.4 847.4,1245.6 848.9,1245.9 850.4,1248.9 851.9,1249.6 853.4,1249.7 854.9,1252.0 856.4,1251.3 857.9,1248.4 859.4,1248.9 860.9,1250.1 862.4,1250.5 863.9,1250.2 865.4,1250.5 866.9,1249.9 868.4,1248.8 869.9,1251.3 871.4,1253.8 872.9,1254.2 874.4,1255.2 875.9,1255.8 877.4,1254.8 878.9,1254.2 880.4,1253.8 881.9,1254.2 883.4,1255.8 884.9,1255.0 886.4,1254.3 887.9,1254.6 889.4,1253.6 890.9,1250.6 892.4,1249.9 893.9,1251.4 895.4,1251.4 896.9,1249.5 898.4,1249.4 899.9,1251.7 901.4,1252.2 902.9,1251.0 904.4,1250.1 905.9,1249.4 907.4,1248.8 908.9,1249.6 910.4,1251.1 911.9,1252.0 913.4,1252.0 914.9,1249.9 916.4,1249.6 917.9,1251.4 919.4,1251.5 920.9,1251.8 922.4,1251.7 923.9,1250.3 925.4,1250.0 926.9,1250.4 928.4,1249.6 929.9,1250.8 931.4,1251.3 932.9,1253.1 934.4,1253.9 935.9,1253.7 937.4,1253.5 938.9,1252.1 940.4,1251.0 941.9,1252.2 943.4,1252.6 944.9,1252.1 946.4,1251.2 947.9,1251.2 949.4,1252.3 950.9,1252.2 952.4,1250.1 953.9,1247.5 955.4,1246.7 956.9,1247.9 958.4,1250.2 959.9,1250.2 961.4,1248.9 962.9,1247.6 964.4,1247.2 965.9,1247.4 967.4,1246.0 968.9,1246.4 970.4,1248.8 971.9,1249.5 973.4,1248.0 974.9,1246.2 976.4,1247.0 977.9,1249.9 979.4,1251.4 980.9,1251.4 982.4,1249.5 983.9,1248.3 985.4,1248.6 986.9,1249.6 988.4,1248.2 989.9,1250.0 991.4,1251.1 992.9,1248.1 994.4,1246.1 995.9,1246.3 997.4,1247.5 998.9,1249.7 1000.4,1249.9 1001.9,1249.2 1003.4,1250.7 1004.9,1252.4 1006.4,1251.1 1007.9,1251.0 1009.4,1252.0 1010.9,1249.7 1012.4,1249.7 1013.9,1251.4 1015.4,1249.5 1016.9,1246.4 1018.4,1245.7 1019.9,1245.6 1021.4,1247.8 1022.9,1249.3 1024.4,1249.7 1025.9,1253.1 1027.4,1254.6 1028.9,1253.0 1030.4,1251.0 1031.9,1251.6 1033.4,1253.4 1034.9,1254.7 1036.4,1253.2 1037.9,1249.2 1039.4,1248.6 1040.9,1249.4 1042.4,1251.0 1043.9,1253.9 1045.4,1255.9 1046.9,1254.5 1048.4,1253.8 1049.9,1253.3 1051.4,1253.9 1052.9,1254.7 1054.4,1253.4 1055.9,1255.7 1057.4,1260.1 1058.9,1260.6 1060.4,1255.0 1061.9,1250.9 1063.4,1250.0 1064.9,1250.8 1066.4,1251.8 1067.9,1252.5 1069.4,1253.0 1070.9,1251.8 1072.4,1250.2 1073.9,1248.2 1075.4,1248.4 1076.9,1248.2 1078.4,1246.9 1079.9,1249.6 1081.4,1251.8 1082.9,1251.2 1084.4,1250.5 1085.9,1249.4 1087.4,1248.3 1088.9,1249.0 1090.4,1249.5 1091.9,1250.3 1093.4,1250.6 1094.9,1249.7 1096.4,1248.6 1097.9,1250.8 1099.4,1253.8 1100.9,1252.8 1102.4,1249.7 1103.9,1248.6 1105.4,1249.4 1106.9,1247.3 1108.4,1244.6 1109.9,1246.5 1111.4,1248.2 1112.9,1245.8 1114.4,1245.6 1115.9,1246.0 1117.4,1246.4 1118.9,1245.8 1120.4,1243.6 1121.9,1242.2 1123.4,1244.7 1124.9,1246.3 1126.4,1245.5 1127.9,1244.3 1129.4,1246.1 1130.9,1248.4 1132.4,1245.7 1133.9,1243.8 1135.4,1243.3 1136.9,1244.7 1138.4,1246.8 1139.9,1247.9 1141.4,1246.7 1142.9,1245.6 1144.4,1245.8 1145.9,1245.6 1147.4,1244.6 1148.9,1244.7 1150.4,1245.0 1151.9,1243.1 1153.4,1241.8 1154.9,1241.2 1156.4,1242.6 1157.9,1244.3 1159.4,1243.2 1160.9,1244.5 1162.4,1246.2 1163.9,1244.0 1165.4,1240.6 1166.9,1237.2 1168.4,1234.8 1169.9,1236.0 1171.4,1238.7 1172.9,1241.5 1174.4,1241.0 1175.9,1238.9 1177.4,1239.5 1178.9,1240.8 1180.4,1243.7 1181.9,1244.2 1183.4,1242.1 1184.9,1241.2 1186.4,1243.0 1187.9,1243.2 1189.4,1242.2 1190.9,1240.5 1192.4,1239.1 1193.9,1238.7 1195.4,1238.0 1196.9,1238.8 1198.4,1237.6 1199.9,1235.8 1201.4,1237.1 1202.9,1237.3 1204.4,1236.6 1205.9,1237.0 1207.4,1236.8 1208.9,1234.2 1210.4,1234.0 1211.9,1235.9 1213.4,1234.6 1214.9,1231.9 1216.4,1231.5 1217.9,1231.2 1219.4,1233.1 1220.9,1233.8 1222.4,1232.1 1223.9,1229.3 1225.4,1229.7 1226.9,1230.8 1228.4,1229.4 1229.9,1229.8 1231.4,1229.6 1232.9,1228.6 1234.4,1228.0 1235.9,1229.2 1237.4,1230.3 1238.9,1232.1 1240.4,1232.9 1241.9,1229.8 1243.4,1227.5 1244.9,1227.7 1246.4,1229.9 1247.9,1229.3 1249.4,1228.1 1250.9,1226.2 1252.4,1226.6 1253.9,1228.1 1255.4,1227.7 1256.9,1226.9 1258.4,1227.4 1259.9,1227.3 1261.4,1227.1 1262.9,1226.1 1264.4,1225.6 1265.9,1225.5 1267.4,1226.4 1268.9,1225.5 1270.4,1224.3 1271.9,1224.4 1273.4,1225.7 1274.9,1225.3 1276.4,1225.0 1277.9,1225.5 1279.4,1224.4 1280.9,1225.6 1282.4,1225.0 1283.9,1222.0 1285.4,1223.1 1286.9,1223.9 1288.4,1223.0 1289.9,1221.5 1291.4,1219.9 1292.9,1220.6 1294.4,1219.5 1295.9,1216.9 1297.4,1216.4 1298.9,1216.2 1300.4,1216.7 1301.9,1216.6 1303.4,1216.3 1304.9,1215.0 1306.4,1215.1 1307.9,1215.7 1309.4,1216.7 1310.9,1218.9 1312.4,1218.0 1313.9,1213.8 1315.4,1213.1 1316.9,1212.2 1318.4,1211.0 1319.9,1210.7 1321.4,1210.8 1322.9,1211.7 1324.4,1213.6 1325.9,1214.2 1327.4,1212.8 1328.9,1211.7 1330.4,1211.9 1331.9,1212.6 1333.4,1212.1 1334.9,1208.0 1336.4,1205.7 1337.9,1207.1 1339.4,1208.3 1340.9,1207.9 1342.4,1205.7 1343.9,1202.3 1345.4,1202.6 1346.9,1203.0 1348.4,1202.3 1349.9,1203.0 1351.4,1204.3 1352.9,1204.2 1354.4,1201.8 1355.9,1200.9 1357.4,1204.1 1358.9,1206.3 1360.4,1204.1 1361.9,1201.5 1363.4,1200.3 1364.9,1202.1 1366.4,1202.7 1367.9,1200.2 1369.4,1200.4 1370.9,1200.5 1372.4,1203.6 1373.9,1204.4 1375.4,1203.0 1376.9,1204.0 1378.4,1204.6 1379.9,1202.9 1381.4,1203.8 1382.9,1203.8 1384.4,1203.1 1385.9,1202.2 1387.4,1198.8 1388.9,1197.6 1390.4,1197.1 1391.9,1198.1 1393.4,1197.9 1394.9,1196.2 1396.4,1197.4 1397.9,1198.0 1399.4,1197.3 1400.9,1198.2 1402.4,1200.0 1403.9,1200.5 1405.4,1199.8 1406.9,1196.4 1408.4,1195.8 1409.9,1197.7 1411.4,1197.7 1412.9,1199.3 1414.4,1199.6 1415.9,1199.3 1417.4,1199.0 1418.9,1200.5 1420.4,1201.4 1421.9,1200.4 1423.4,1197.5 1424.9,1195.4 1426.4,1196.9 1427.9,1197.8 1429.4,1197.2 1430.9,1195.0 1432.4,1195.3 1433.9,1195.6 1435.4,1196.5 1436.9,1198.2 1438.4,1199.2 1439.9,1199.3 1441.4,1197.9 1442.9,1196.5 1444.4,1194.6 1445.9,1193.0 1447.4,1193.4 1448.9,1191.9 1450.4,1191.5 1451.9,1192.1 1453.4,1191.0 1454.9,1189.0 1456.4,1186.9 1457.9,1187.6 1459.4,1188.5 1460.9,1189.8 1462.4,1191.1 1463.9,1190.4 1465.4,1190.0 1466.9,1190.9 1468.4,1192.3 1469.9,1192.4 1471.4,1190.9 1472.9,1189.9 1474.4,1190.2 1475.9,1189.2 1477.4,1188.9 1478.9,1188.9 1480.4,1187.5 1481.9,1185.9 1483.4,1186.1 1484.9,1188.2 1486.4,1190.4 1487.9,1191.0 1489.4,1190.5 1490.9,1191.5 1492.4,1192.6 1493.9,1194.7 1495.4,1197.4 1496.9,1195.4 1498.4,1194.6 1499.9,1197.5 1501.4,1199.8 1502.9,1199.5 1504.4,1199.3 1505.9,1197.3 1507.4,1196.8 1508.9,1197.4 1510.4,1197.8 1511.9,1198.1 1513.4,1197.8 1514.9,1196.9 1516.4,1196.4 1517.9,1197.4 1519.4,1197.7 1520.9,1198.2 1522.4,1199.0 1523.9,1198.4 1525.4,1198.2 1526.9,1198.2 1528.4,1195.3 1529.9,1193.0 1531.4,1193.4 1532.9,1194.3 1534.4,1196.0 1535.9,1197.6 1537.4,1199.0 1538.9,1200.8 1540.4,1202.2 1541.9,1202.8 1543.4,1202.6 1544.9,1202.3 1546.4,1202.8 1547.9,1204.0 1549.4,1204.2 1550.9,1204.3 1552.4,1206.3 1553.9,1208.7 1555.4,1208.5 1556.9,1207.9 1558.4,1209.3 1559.9,1209.9 1561.4,1209.9 1562.9,1212.7 1564.4,1213.3 1565.9,1212.3 1567.4,1212.8 1568.9,1212.8 1570.4,1211.8 1571.9,1210.1 1573.4,1209.9 1574.9,1210.6 1576.4,1210.7 1577.9,1209.4 1579.4,1207.9 1580.9,1208.9 1582.4,1211.3 1583.9,1212.9 1585.4,1215.3 1586.9,1215.1 1588.4,1212.6 1589.9,1210.6 1591.4,1209.6 1592.9,1212.3 1594.4,1213.5 1595.9,1211.3 1597.4,1210.4 1598.9,1211.7 1600.4,1214.1 1601.9,1214.1 1603.4,1211.8 1604.9,1211.7 1606.4,1213.0 1607.9,1212.7 1609.4,1211.9 1610.9,1211.3 1612.4,1209.4 1613.9,1209.5 1615.4,1213.3 1616.9,1216.5 1618.4,1217.6 1619.9,1216.4 1621.4,1216.0 1622.9,1217.5 1624.4,1218.1 1625.9,1217.6 1627.4,1217.4 1628.9,1217.6 1630.4,1216.7 1631.9,1215.5 1633.4,1213.1 1634.9,1213.0 1636.4,1215.0 1637.9,1214.4 1639.4,1214.4 1640.9,1215.4 1642.4,1217.8 1643.9,1223.2 1645.4,1227.3 1646.9,1227.9 1648.4,1227.3 1649.9,1225.9 1651.4,1225.8 1652.9,1226.9 1654.4,1225.6 1655.9,1224.9 1657.4,1227.3 1658.9,1230.4 1660.4,1230.6 1661.9,1228.9 1663.4,1227.6 1664.9,1228.5 1666.4,1230.6 1667.9,1231.1 1669.4,1231.7 1670.9,1233.1 1672.4,1231.5 1673.9,1230.3 1675.4,1232.9 1676.9,1236.0 1678.4,1236.7 1679.9,1235.5 1681.4,1233.7 1682.9,1233.8 1684.4,1233.5 1685.9,1232.2 1687.4,1232.2 1688.9,1234.3 1690.4,1234.0 1691.9,1233.6 1693.4,1236.2 1694.9,1237.1 1696.4,1233.8 1697.9,1235.0 1699.4,1238.4 1700.9,1237.8 1702.4,1233.8 1703.9,1231.5 1705.4,1230.9 1706.9,1232.0 1708.4,1231.9 1709.9,1233.9 1711.4,1237.2 1712.9,1236.5 1714.4,1237.3 1715.9,1241.8 1717.4,1245.6 1718.9,1248.1 1720.4,1249.0 1721.9,1247.4 1723.4,1247.5 1724.9,1248.4 1726.4,1248.8 1727.9,1250.5 1729.4,1250.4 1730.9,1248.5 1732.4,1247.4 1733.9,1247.4 1735.4,1246.1 1736.9,1243.2 1738.4,1242.8 1739.9,1243.9 1741.4,1244.6 1742.9,1245.2 1744.4,1246.0 1745.9,1247.0 1747.4,1247.5 1748.9,1248.2 1750.4,1248.1 1751.9,1247.0 1753.4,1245.6 1754.9,1245.5 1756.4,1246.7 1757.9,1246.9 1759.4,1248.2 1760.9,1249.9 1762.4,1249.2 1763.9,1247.8 1765.4,1250.5 1766.9,1253.4 1768.4,1252.1 1769.9,1252.2 1771.4,1251.1 1772.9,1251.7 1774.4,1252.3 1775.9,1251.0 1777.4,1250.2 1778.9,1248.0 1780.4,1248.7 1781.9,1250.2 1783.4,1252.0 1784.9,1253.6 1786.4,1254.4 1787.9,1253.4 1789.4,1250.5 1790.9,1249.4 1792.4,1250.0 1793.9,1248.0 1795.4,1244.8 1796.9,1244.7 1798.4,1247.5 1799.9,1249.4 1801.4,1250.5 1802.9,1249.9 1804.4,1248.5 1805.9,1248.9 1807.4,1248.9 1808.9,1249.8 1810.4,1251.0 1811.9,1251.9 1813.4,1250.1 1814.9,1247.9 1816.4,1247.8 1817.9,1248.9 1819.4,1250.0 1820.9,1249.5 1822.4,1247.1 1823.9,1246.9 1825.4,1249.1 1826.9,1250.3 1828.4,1251.4 1829.9,1252.2 1831.4,1252.8 1832.9,1250.6 1834.4,1247.5 1835.9,1247.7 1837.4,1248.5 1838.9,1247.6 1840.4,1248.7 1841.9,1250.8 1843.4,1251.7 1844.9,1249.9 1846.4,1247.7 1847.9,1248.3 1849.4,1247.4 1850.9,1246.9 1852.4,1247.3 1853.9,1248.8 1855.4,1248.8 1856.9,1248.8 1858.4,1248.6 1859.9,1247.5 1861.4,1247.6 1862.9,1249.5 1864.4,1249.4 1865.9,1246.9 1867.4,1242.9 1868.9,1243.3 1870.4,1247.8 1871.9,1247.3 1873.4,1244.5 1874.9,1245.4 1876.4,1245.3 1877.9,1244.0 1879.4,1245.4 1880.9,1247.3 1882.4,1245.8 1883.9,1244.8 1885.4,1243.3 1886.9,1244.2 1888.4,1248.5 1889.9,1247.8 1891.4,1244.9 1892.9,1243.7 1894.4,1243.2 1895.9,1243.0 1897.4,1244.7 1898.9,1245.2 1900.4,1243.8 1901.9,1242.5 1903.4,1241.3 1904.9,1240.8 1906.4,1239.6 1907.9,1241.8 1909.4,1244.3 1910.9,1245.0 1912.4,1245.8 1913.9,1242.9 1915.4,1241.9 1916.9,1243.6 1918.4,1245.5 1919.9,1245.8 1921.4,1243.5 1922.9,1242.4 1924.4,1245.3 1925.9,1246.4 1927.4,1245.0 1928.9,1243.2 1930.4,1244.7 1931.9,1246.7 1933.4,1249.3 1934.9,1250.1 1936.4,1248.0 1937.9,1248.0 1939.4,1248.8 1940.9,1249.5 1942.4,1251.6 1943.9,1252.1 1945.4,1250.5 1946.9,1250.4 1948.4,1250.8 1949.9,1250.0 1951.4,1252.1 1952.9,1254.0 1954.4,1253.3 1955.9,1252.6 1957.4,1255.4 1958.9,1255.4 1960.4,1252.8 1961.9,1254.3 1963.4,1254.8 1964.9,1252.7 1966.4,1250.6 1967.9,1250.3 1969.4,1248.9 1970.9,1249.6 1972.4,1251.0 1973.9,1250.4 1975.4,1249.0 1976.9,1248.6 1978.4,1248.0 1979.9,1247.1 1981.4,1245.2 1982.9,1244.0 1984.4,1244.2 1985.9,1245.5 1987.4,1249.8 1988.9,1252.5 1990.4,1251.1 1991.9,1248.8 1993.4,1246.1 1994.9,1245.2 1996.4,1245.5 1997.9,1247.1 1999.4,1246.9 2000.9,1246.7 2002.4,1248.6 2003.9,1248.7 2005.4,1249.3 2006.9,1250.4 2008.4,1251.2 2009.9,1250.4 2011.4,1248.1 2012.9,1246.4 2014.4,1245.5 2015.9,1246.7 2017.4,1249.3 2018.9,1249.5 2020.4,1249.6 2021.9,1248.0 2023.4,1248.2 2024.9,1250.3 2026.4,1249.9 2027.9,1250.2 2029.4,1251.5 2030.9,1249.5 2032.4,1249.7 2033.9,1252.8 2035.4,1254.2 2036.9,1252.3 2038.4,1252.0 2039.9,1254.2 2041.4,1252.5 2042.9,1250.6 2044.4,1251.3 2045.9,1250.2 2047.4,1246.1 2048.9,1247.0 2050.4,1250.5 2051.9,1251.4 2053.4,1250.6 2054.9,1250.7 2056.4,1252.1 2057.9,1252.2 2059.4,1250.2 2060.9,1249.8 2062.4,1250.3 2063.9,1248.4 2065.4,1246.4 2066.9,1246.4 2068.4,1246.8 2069.9,1248.8 2071.4,1249.1 2072.9,1247.4 2074.4,1247.3 2075.9,1248.7 2077.4,1249.4 2078.9,1248.0 2080.4,1245.6 2081.9,1244.6 2083.4,1244.5 2084.9,1243.2 2086.4,1241.1 2087.9,1239.7 2089.4,1241.6 2090.9,1243.8 2092.4,1244.2 2093.9,1243.2 2095.4,1244.1 2096.9,1247.6 2098.4,1249.4 2099.9,1248.4 2101.4,1247.0 2102.9,1247.3 2104.4,1248.8 2105.0,1250.3"/>
<path stroke="#0A6EE0" d="M31.4,976.4 32.9,976.1 34.4,976.3 35.9,975.8 37.4,975.5 38.9,976.4 40.4,976.8 41.9,977.4 43.4,977.9 44.9,976.7 46.4,975.4 47.9,975.6 49.4,976.1 50.9,975.5 52.4,975.9 53.9,976.0 55.4,975.5 56.9,975.9 58.4,976.0 59.9,975.4 61.4,975.4 62.9,975.5 64.4,974.8 65.9,975.0 67.4,976.0 68.9,975.5 70.4,974.8 71.9,975.7 73.4,976.4 74.9,975.6 76.4,976.1 77.9,976.5 79.4,976.2 80.9,976.2 82.4,976.3 83.9,977.4 85.4,977.3 86.9,975.9 88.4,975.4 89.9,975.5 91.4,975.4 92.9,975.4 94.4,975.2 95.9,975.5 97.4,975.5 98.9,975.6 100.4,976.1 101.9,976.1 103.4,975.6 104.9,976.3 106.4,976.7 107.9,976.7 109.4,976.8 110.9,975.8 112.4,975.5 113.9,975.9 115.4,976.1 116.9,976.9 118.4,977.2 119.9,977.0 121.4,975.8 122.9,975.7 124.4,976.6 125.9,976.5 127.4,976.8 128.9,976.6 130.4,977.1 131.9,977.5 133.4,976.6 134.9,975.6 136.4,976.1 137.9,977.1 139.4,977.3 140.9,977.2 142.4,977.1 143.9,977.0 145.4,976.7 146.9,976.7 148.4,977.4 149.9,977.1 151.4,976.4 152.9,977.4 154.4,978.8 155.9,978.7 157.4,977.2 158.9,977.2 160.4,977.8 161.9,977.7 163.4,977.2 164.9,977.2 166.4,977.1 167.9,977.0 169.4,977.1 170.9,977.5 172.4,977.6 173.9,977.9 175.4,978.3 176.9,979.1 178.4,979.3 179.9,978.2 181.4,977.3 182.9,977.3 184.4,976.9 185.9,976.6 187.4,977.2 188.9,977.8 190.4,978.3 191.9,978.3 193.4,978.6 194.9,978.4 196.4,977.6 197.9,977.3 199.4,977.2 200.9,977.6 202.4,978.1 203.9,977.6 205.4,977.3 206.9,977.7 208.4,978.5 209.9,978.0 211.4,977.4 212.9,977.2 214.4,977.3 215.9,976.9 217.4,976.2 218.9,975.5 220.4,976.0 221.9,977.6 223.4,978.1 224.9,977.5 226.4,978.2 227.9,979.7 229.4,980.4 230.9,978.7 232.4,977.5 233.9,977.8 235.4,979.0 236.9,979.3 238.4,979.1 239.9,979.9 241.4,979.9 242.9,978.6 244.4,978.0 245.9,977.4 247.4,976.7 248.9,976.6 250.4,976.3 251.9,976.0 253.4,976.7 254.9,977.1 256.4,976.4 257.9,976.1 259.4,976.3 260.9,977.0 262.4,977.4 263.9,977.5 265.4,976.6 266.9,976.0 268.4,976.7 269.9,977.2 271.4,977.7 272.9,976.7 274.4,974.6 275.9,974.5 277.4,975.5 278.9,975.2 280.4,974.5 281.9,975.6 283.4,976.9 284.9,976.5 286.4,975.6 287.9,976.0 289.4,976.5 290.9,976.6 292.4,976.9 293.9,976.9 295.4,977.8 296.9,977.9 298.4,976.9 299.9,976.0 301.4,975.3 302.9,975.1 304.4,976.1 305.9,976.6 307.4,976.1 308.9,975.4 310.4,974.6 311.9,973.7 313.4,973.3 314.9,973.3 316.4,974.0 317.9,974.2 319.4,974.5 320.9,974.7 322.4,975.6 323.9,976.2 325.4,976.0 326.9,975.0 328.4,973.6 329.9,972.8 331.4,972.8 332.9,973.6 334.4,974.0 335.9,973.6 337.4,974.0 338.9,972.7 340.4,971.8 341.9,972.5 343.4,972.7 344.9,971.7 346.4,971.4 347.9,971.9 349.4,971.4 350.9,971.4 352.4,971.1 353.9,970.4 355.4,969.9 356.9,969.0 358.4,968.8 359.9,969.0 361.4,968.5 362.9,968.9 364.4,970.3 365.9,970.9 367.4,970.4 368.9,969.5 370.4,968.6 371.9,967.9 373.4,966.7 374.9,965.9 376.4,967.1 377.9,968.1 379.4,967.9 380.9,967.2 382.4,967.3 383.9,966.4 385.4,965.5 386.9,966.0 388.4,966.6 389.9,966.4 391.4,965.9 392.9,965.4 394.4,965.9 395.9,965.9 397.4,965.1 398.9,964.6 400.4,964.1 401.9,963.9 403.4,963.7 404.9,964.2 406.4,964.1 407.9,963.6 409.4,963.7 410.9,963.5 412.4,963.5 413.9,963.5 415.4,963.8 416.9,964.0 418.4,964.5 419.9,964.3 421.4,963.2 422.9,961.3 424.4,960.3 425.9,961.2 427.4,962.0 428.9,961.1 430.4,961.0 431.9,960.2 433.4,958.5 434.9,957.8 436.4,957.7 437.9,956.4 439.4,955.2 440.9,954.5 442.4,954.3 443.9,954.3 445.4,954.3 446.9,953.8 448.4,953.2 449.9,952.8 451.4,952.6 452.9,951.0 454.4,949.2 455.9,947.7 457.4,946.5 458.9,946.4 460.4,946.4 461.9,945.8 463.4,945.1 464.9,943.3 466.4,942.4 467.9,942.8 469.4,942.2 470.9,941.1 472.4,941.2 473.9,940.6 475.4,938.5 476.9,936.7 478.4,936.2 479.9,934.9 481.4,933.7 482.9,932.8 484.4,931.8 485.9,931.3 487.4,930.2 488.9,929.7 490.4,929.4 491.9,928.9 493.4,927.6 494.9,926.4 496.4,924.9 497.9,923.9 499.4,923.3 500.9,923.1 502.4,922.6 503.9,922.3 505.4,920.9 506.9,919.2 508.4,918.9 509.9,919.0 511.4,918.0 512.9,916.7 514.4,915.2 515.9,915.1 517.4,914.8 518.9,913.9 520.4,912.4 521.9,910.1 523.4,908.3 524.9,908.1 526.4,908.6 527.9,908.2 529.4,907.1 530.9,905.7 532.4,904.5 533.9,903.0 535.4,902.2 536.9,901.2 538.4,900.8 539.9,901.0 541.4,900.4 542.9,899.1 544.4,898.5 545.9,898.6 547.4,897.7 548.9,896.0 550.4,895.1 551.9,894.6 553.4,894.2 554.9,893.2 556.4,891.6 557.9,889.9 559.4,888.4 560.9,887.5 562.4,885.4 563.9,882.8 565.4,882.3 566.9,882.2 568.4,881.1 569.9,880.1 571.4,879.9 572.9,879.8 574.4,879.2 575.9,879.6 577.4,880.1 578.9,879.9 580.4,879.4 581.9,879.0 583.4,879.4 584.9,879.7 586.4,879.9 587.9,880.1 589.4,881.1 590.9,881.5 592.4,882.4 593.9,883.5 595.4,883.6 596.9,883.7 598.4,884.6 599.9,886.0 601.4,886.6 602.9,886.2 604.4,885.6 605.9,886.0 607.4,887.1 608.9,887.5 610.4,887.1 611.9,887.7 613.4,889.3 614.9,890.2 616.4,890.1 617.9,890.7 619.4,892.5 620.9,893.5 622.4,893.7 623.9,893.8 625.4,895.4 626.9,897.5 628.4,898.9 629.9,899.2 631.4,899.4 632.9,900.4 634.4,902.1 635.9,903.4 637.4,903.5 638.9,902.9 640.4,903.6 641.9,905.0 643.4,906.1 644.9,906.3 646.4,905.7 647.9,905.5 649.4,906.7 650.9,907.3 652.4,907.4 653.9,907.6 655.4,907.9 656.9,908.2 658.4,908.0 659.9,907.9 661.4,908.5 662.9,908.1 664.4,906.5 665.9,905.1 667.4,904.3 668.9,904.3 670.4,904.1 671.9,902.5 673.4,900.2 674.9,896.4 676.4,893.2 677.9,890.9 679.4,889.0 680.9,887.8 682.4,886.0 683.9,882.8 685.4,880.7 686.9,879.5 688.4,877.3 689.9,873.8 691.4,870.7 692.9,867.6 694.4,863.6 695.9,859.7 697.4,855.6 698.9,851.8 700.4,849.1 701.9,847.1 703.4,844.2 704.9,840.3 706.4,837.5 707.9,836.1 709.4,834.5 710.9,833.0 712.4,831.0 713.9,829.6 715.4,830.1 716.9,831.7 718.4,833.4 719.9,833.8 721.4,835.7 722.9,838.1 724.4,840.8 725.9,845.5 727.4,850.4 728.9,854.9 730.4,859.6 731.9,864.8 733.4,870.7 734.9,876.3 736.4,882.3 737.9,889.3 739.4,896.2 740.9,902.6 742.4,907.5 743.9,912.1 745.4,916.5 746.9,920.8 748.4,924.3 749.9,927.4 751.4,931.3 752.9,934.2 754.4,935.5 755.9,936.4 757.4,937.8 758.9,939.9 760.4,942.5 761.9,945.1 763.4,947.3 764.9,949.6 766.4,951.1 767.9,951.6 769.4,951.8 770.9,952.4 772.4,953.6 773.9,955.3 775.4,956.5 776.9,956.5 778.4,957.3 779.9,958.2 781.4,959.8 782.9,960.9 784.4,960.7 785.9,960.3 787.4,960.9 788.9,961.5 790.4,961.2 791.9,961.5 793.4,963.2 794.9,964.6 796.4,965.1 797.9,966.4 799.4,967.3 800.9,967.0 802.4,966.6 803.9,966.4 805.4,967.2 806.9,968.6 808.4,969.1 809.9,968.5 811.4,968.1 812.9,968.9 814.4,969.8 815.9,968.2 817.4,967.6 818.9,968.6 820.4,968.7 821.9,969.1 823.4,969.3 824.9,970.4 826.4,970.9 827.9,970.2 829.4,969.9 830.9,970.3 832.4,971.3 833.9,971.3 835.4,971.4 836.9,972.6 838.4,973.2 839.9,973.1 841.4,973.3 842.9,973.7 844.4,973.0 845.9,972.7 847.4,973.4 848.9,974.1 850.4,973.8 851.9,973.5 853.4,973.4 854.9,973.8 856.4,975.0 857.9,975.8 859.4,974.5 860.9,974.4 862.4,974.7 863.9,974.1 865.4,974.1 866.9,975.6 868.4,976.7 869.9,976.5 871.4,975.6 872.9,975.3 874.4,975.3 875.9,974.4 877.4,975.2 878.9,976.8 880.4,976.8 881.9,976.1 883.4,975.5 884.9,975.1 886.4,975.1 887.9,976.0 889.4,976.3 890.9,975.3 892.4,974.3 893.9,976.0 895.4,977.2 896.9,976.9 898.4,975.0 899.9,973.3 901.4,973.7 902.9,975.5 904.4,977.1 905.9,976.3 907.4,976.2 908.9,977.2 910.4,977.6 911.9,977.1 913.4,976.6 914.9,977.2 916.4,976.3 917.9,975.2 919.4,974.9 920.9,974.0 922.4,973.6 923.9,973.8 925.4,973.8 926.9,974.0 928.4,974.2 929.9,974.2 931.4,974.8 932.9,975.6 934.4,975.0 935.9,974.7 937.4,974.7 938.9,974.8 940.4,975.6 941.9,977.3 943.4,977.0 944.9,976.3 946.4,975.1 947.9,973.9 949.4,973.8 950.9,973.6 952.4,973.5 953.9,974.9 955.4,976.2 956.9,975.9 958.4,976.0 959.9,975.2 961.4,974.0 962.9,974.8 964.4,974.8 965.9,975.9 967.4,976.1 968.9,976.8 970.4,977.9 971.9,976.4 973.4,973.5 974.9,972.4 976.4,973.7 977.9,975.6 979.4,976.2 980.9,976.3 982.4,976.3 983.9,975.7 985.4,973.6 986.9,972.3 988.4,973.4 989.9,974.2 991.4,972.6 992.9,971.4 994.4,972.9 995.9,974.8 997.4,975.0 998.9,974.3 1000.4,973.2 1001.9,972.7 1003.4,974.8 1004.9,976.6 1006.4,976.2 1007.9,975.8 1009.4,974.3 1010.9,973.9 1012.4,974.2 1013.9,973.9 1015.4,973.8 1016.9,975.0 1018.4,974.1 1019.9,973.1 1021.4,974.6 1022.9,974.8 1024.4,974.0 1025.9,975.0 1027.4,976.4 1028.9,976.6 1030.4,975.8 1031.9,975.0 1033.4,975.9 1034.9,977.6 1036.4,978.3 1037.9,977.4 1039.4,976.9 1040.9,976.6 1042.4,974.9 1043.9,973.6 1045.4,974.4 1046.9,975.5 1048.4,976.0 1049.9,975.5 1051.4,974.6 1052.9,974.3 1054.4,974.2 1055.9,973.6 1057.4,972.9 1058.9,972.7 1060.4,973.9 1061.9,974.8 1063.4,974.7 1064.9,975.0 1066.4,975.1 1067.9,974.4 1069.4,974.3 1070.9,974.8 1072.4,975.4 1073.9,975.0 1075.4,974.6 1076.9,974.9 1078.4,977.2 1079.9,977.2 1081.4,976.0 1082.9,977.0 1084.4,978.4 1085.9,977.0 1087.4,975.3 1088.9,975.7 1090.4,976.3 1091.9,976.9 1093.4,976.1 1094.9,975.0 1096.4,976.3 1097.9,978.0 1099.4,978.4 1100.9,978.2 1102.4,978.9 1103.9,978.8 1105.4,977.9 1106.9,976.3 1108.4,974.3 1109.9,976.1 1111.4,977.2 1112.9,976.3 1114.4,975.6 1115.9,974.6 1117.4,974.2 1118.9,973.8 1120.4,973.0 1121.9,972.6 1123.4,972.2 1124.9,974.1 1126.4,976.7 1127.9,977.0 1129.4,976.0 1130.9,975.9 1132.4,974.2 1133.9,972.0 1135.4,971.9 1136.9,972.6 1138.4,973.2 1139.9,973.1 1141.4,972.1 1142.9,972.3 1144.4,973.2 1145.9,972.8 1147.4,972.3 1148.9,972.0 1150.4,972.3 1151.9,971.8 1153.4,971.0 1154.9,971.3 1156.4,970.7 1157.9,970.5 1159.4,970.5 1160.9,970.9 1162.4,970.9 1163.9,970.6 1165.4,970.0 1166.9,969.6 1168.4,969.5 1169.9,968.8 1171.4,967.4 1172.9,967.2 1174.4,969.1 1175.9,969.6 1177.4,968.2 1178.9,967.9 1180.4,967.7 1181.9,968.3 1183.4,969.1 1184.9,968.5 1186.4,966.7 1187.9,965.5 1189.4,966.5 1190.9,968.0 1192.4,968.5 1193.9,967.3 1195.4,967.1 1196.9,967.8 1198.4,967.7 1199.9,966.3 1201.4,966.4 1202.9,965.8 1204.4,964.2 1205.9,963.3 1207.4,964.2 1208.9,965.5 1210.4,964.8 1211.9,964.1 1213.4,965.3 1214.9,967.1 1216.4,967.6 1217.9,967.3 1219.4,967.0 1220.9,966.0 1222.4,964.2 1223.9,963.7 1225.4,964.9 1226.9,964.5 1228.4,963.8 1229.9,963.6 1231.4,964.5 1232.9,964.8 1234.4,963.6 1235.9,963.1 1237.4,963.2 1238.9,963.1 1240.4,962.4 1241.9,961.5 1243.4,960.9 1244.9,960.6 1246.4,960.6 1247.9,961.2 1249.4,961.6 1250.9,961.7 1252.4,959.9 1253.9,959.4 1255.4,961.0 1256.9,961.0 1258.4,961.0 1259.9,962.9 1261.4,962.6 1262.9,962.0 1264.4,961.4 1265.9,961.7 1267.4,961.6 1268.9,960.4 1270.4,960.6 1271.9,961.8 1273.4,962.7 1274.9,962.3 1276.4,961.8 1277.9,961.2 1279.4,960.9 1280.9,960.3 1282.4,958.5 1283.9,956.4 1285.4,956.6 1286.9,958.6 1288.4,959.4 1289.9,958.7 1291.4,957.7 1292.9,957.0 1294.4,957.1 1295.9,957.8 1297.4,957.3 1298.9,958.3 1300.4,958.7 1301.9,959.5 1303.4,958.1 1304.9,956.2 1306.4,955.8 1307.9,956.2 1309.4,957.1 1310.9,956.5 1312.4,955.5 1313.9,954.9 1315.4,954.7 1316.9,953.6 1318.4,954.1 1319.9,954.7 1321.4,953.3 1322.9,954.3 1324.4,955.6 1325.9,955.5 1327.4,955.9 1328.9,955.5 1330.4,953.4 1331.9,951.2 1333.4,951.3 1334.9,952.6 1336.4,953.6 1337.9,953.0 1339.4,951.7 1340.9,950.9 1342.4,951.3 1343.9,950.8 1345.4,949.2 1346.9,950.4 1348.4,951.5 1349.9,951.1 1351.4,950.7 1352.9,950.8 1354.4,951.3 1355.9,951.1 1357.4,951.5 1358.9,950.0 1360.4,947.9 1361.9,948.5 1363.4,950.0 1364.9,950.5 1366.4,950.0 1367.9,949.9 1369.4,951.0 1370.9,950.6 1372.4,948.2 1373.9,948.8 1375.4,950.7 1376.9,949.9 1378.4,949.2 1379.9,951.2 1381.4,951.7 1382.9,950.1 1384.4,949.7 1385.9,949.7 1387.4,950.1 1388.9,950.3 1390.4,949.4 1391.9,948.7 1393.4,947.9 1394.9,947.4 1396.4,949.1 1397.9,950.2 1399.4,949.7 1400.9,949.4 1402.4,949.1 1403.9,947.4 1405.4,946.7 1406.9,947.6 1408.4,948.4 1409.9,948.1 1411.4,946.0 1412.9,945.3 1414.4,946.1 1415.9,947.7 1417.4,947.1 1418.9,945.6 1420.4,943.5 1421.9,944.1 1423.4,945.8 1424.9,945.5 1426.4,945.4 1427.9,946.3 1429.4,946.3 1430.9,946.0 1432.4,945.7 1433.9,945.9 1435.4,947.1 1436.9,946.7 1438.4,944.9 1439.9,943.1 1441.4,941.7 1442.9,942.8 1444.4,944.3 1445.9,943.5 1447.4,944.1 1448.9,946.2 1450.4,946.2 1451.9,945.1 1453.4,944.3 1454.9,943.6 1456.4,943.7 1457.9,944.3 1459.4,945.2 1460.9,944.7 1462.4,943.9 1463.9,945.1 1465.4,945.6 1466.9,945.7 1468.4,945.5 1469.9,944.7 1471.4,944.3 1472.9,944.8 1474.4,944.4 1475.9,943.0 1477.4,942.7 1478.9,943.3 1480.4,943.7 1481.9,942.9 1483.4,942.7 1484.9,943.9 1486.4,943.2 1487.9,942.3 1489.4,943.0 1490.9,944.0 1492.4,943.3 1493.9,941.6 1495.4,941.5 1496.9,942.4 1498.4,943.9 1499.9,945.1 1501.4,946.2 1502.9,948.1 1504.4,948.6 1505.9,948.4 1507.4,947.0 1508.9,945.6 1510.4,945.6 1511.9,944.9 1513.4,945.4 1514.9,947.0 1516.4,947.9 1517.9,948.2 1519.4,948.3 1520.9,949.3 1522.4,949.5 1523.9,948.7 1525.4,947.8 1526.9,948.7 1528.4,951.6 1529.9,953.0 1531.4,951.1 1532.9,949.7 1534.4,948.3 1535.9,947.9 1537.4,950.2 1538.9,951.6 1540.4,951.5 1541.9,950.6 1543.4,951.0 1544.9,952.4 1546.4,952.3 1547.9,953.3 1549.4,954.1 1550.9,953.4 1552.4,952.8 1553.9,952.5 1555.4,951.6 1556.9,952.0 1558.4,952.1 1559.9,951.8 1561.4,953.3 1562.9,955.8 1564.4,956.5 1565.9,954.7 1567.4,954.7 1568.9,955.1 1570.4,954.5 1571.9,954.6 1573.4,955.7 1574.9,955.6 1576.4,955.1 1577.9,956.4 1579.4,956.3 1580.9,955.7 1582.4,955.8 1583.9,956.2 1585.4,954.9 1586.9,954.9 1588.4,955.5 1589.9,955.4 1591.4,956.2 1592.9,957.8 1594.4,958.4 1595.9,957.5 1597.4,957.1 1598.9,957.6 1600.4,957.3 1601.9,956.8 1603.4,957.5 1604.9,956.8 1606.4,956.3 1607.9,957.2 1609.4,956.7 1610.9,955.4 1612.4,955.1 1613.9,954.0 1615.4,953.2 1616.9,953.6 1618.4,954.9 1619.9,955.2 1621.4,954.8 1622.9,953.7 1624.4,953.2 1625.9,953.1 1627.4,954.0 1628.9,955.0 1630.4,955.3 1631.9,955.6 1633.4,956.9 1634.9,957.3 1636.4,958.9 1637.9,959.7 1639.4,959.9 1640.9,959.2 1642.4,960.1 1643.9,962.1 1645.4,963.7 1646.9,963.7 1648.4,963.9 1649.9,963.8 1651.4,963.8 1652.9,963.3 1654.4,963.3 1655.9,963.4 1657.4,961.8 1658.9,961.8 1660.4,964.8 1661.9,967.8 1663.4,967.9 1664.9,966.9 1666.4,967.0 1667.9,967.3 1669.4,968.1 1670.9,968.2 1672.4,966.3 1673.9,964.8 1675.4,964.7 1676.9,966.6 1678.4,968.7 1679.9,968.1 1681.4,966.9 1682.9,967.2 1684.4,968.6 1685.9,970.2 1687.4,970.7 1688.9,971.1 1690.4,971.9 1691.9,972.0 1693.4,971.5 1694.9,969.9 1696.4,969.3 1697.9,971.0 1699.4,972.4 1700.9,971.3 1702.4,971.5 1703.9,971.8 1705.4,970.8 1706.9,971.7 1708.4,974.1 1709.9,973.7 1711.4,973.1 1712.9,973.7 1714.4,973.1 1715.9,971.5 1717.4,971.2 1718.9,972.3 1720.4,972.8 1721.9,973.0 1723.4,974.0 1724.9,976.3 1726.4,976.6 1727.9,976.1 1729.4,974.3 1730.9,973.4 1732.4,973.5 1733.9,974.2 1735.4,974.5 1736.9,973.6 1738.4,972.9 1739.9,973.4 1741.4,974.5 1742.9,974.7 1744.4,973.2 1745.9,973.5 1747.4,975.4 1748.9,976.2 1750.4,975.1 1751.9,974.7 1753.4,974.3 1754.9,974.1 1756.4,974.0 1757.9,973.6 1759.4,973.7 1760.9,974.6 1762.4,975.9 1763.9,976.0 1765.4,976.1 1766.9,975.0 1768.4,974.0 1769.9,973.6 1771.4,974.8 1772.9,976.6 1774.4,976.4 1775.9,975.6 1777.4,976.9 1778.9,976.5 1780.4,976.1 1781.9,976.0 1783.4,974.9 1784.9,973.9 1786.4,974.2 1787.9,975.3 1789.4,976.4 1790.9,974.5 1792.4,973.0 1793.9,975.0 1795.4,975.4 1796.9,973.8 1798.4,973.9 1799.9,976.4 1801.4,975.1 1802.9,973.4 1804.4,973.3 1805.9,973.9 1807.4,974.3 1808.9,974.8 1810.4,975.0 1811.9,975.2 1813.4,975.1 1814.9,974.4 1816.4,975.2 1817.9,975.3 1819.4,975.1 1820.9,975.3 1822.4,975.1 1823.9,974.3 1825.4,973.2 1826.9,972.1 1828.4,971.3 1829.9,971.5 1831.4,972.8 1832.9,974.0 1834.4,973.7 1835.9,972.7 1837.4,971.3 1838.9,971.1 1840.4,973.5 1841.9,975.1 1843.4,974.0 1844.9,973.7 1846.4,972.3 1847.9,971.3 1849.4,971.6 1850.9,972.7 1852.4,974.2 1853.9,974.2 1855.4,973.6 1856.9,973.7 1858.4,975.3 1859.9,976.1 1861.4,974.7 1862.9,972.9 1864.4,972.1 1865.9,972.1 1867.4,972.6 1868.9,973.9 1870.4,973.9 1871.9,973.9 1873.4,973.3 1874.9,974.2 1876.4,974.8 1877.9,974.6 1879.4,973.6 1880.9,973.6 1882.4,974.8 1883.9,973.6 1885.4,973.5 1886.9,972.9 1888.4,972.4 1889.9,974.1 1891.4,975.3 1892.9,974.1 1894.4,971.8 1895.9,971.8 1897.4,973.2 1898.9,973.8 1900.4,973.6 1901.9,971.8 1903.4,970.0 1904.9,970.4 1906.4,971.6 1907.9,971.1 1909.4,971.4 1910.9,973.6 1912.4,974.5 1913.9,973.2 1915.4,972.8 1916.9,973.4 1918.4,974.0 1919.9,973.3 1921.4,972.8 1922.9,972.5 1924.4,972.8 1925.9,974.9 1927.4,975.7 1928.9,974.4 1930.4,973.7 1931.9,973.5 1933.4,973.1 1934.9,973.0 1936.4,974.2 1937.9,975.0 1939.4,974.5 1940.9,973.1 1942.4,972.7 1943.9,973.1 1945.4,974.1 1946.9,973.1 1948.4,973.8 1949.9,974.6 1951.4,973.0 1952.9,972.6 1954.4,972.6 1955.9,973.6 1957.4,973.2 1958.9,972.3 1960.4,972.5 1961.9,973.8 1963.4,974.6 1964.9,975.2 1966.4,975.0 1967.9,974.1 1969.4,974.8 1970.9,975.7 1972.4,975.3 1973.9,974.6 1975.4,973.9 1976.9,973.4 1978.4,973.8 1979.9,975.2 1981.4,976.4 1982.9,974.6 1984.4,973.3 1985.9,973.8 1987.4,973.7 1988.9,973.7 1990.4,974.4 1991.9,973.8 1993.4,973.5 1994.9,975.3 1996.4,977.0 1997.9,976.6 1999.4,975.3 2000.9,974.6 2002.4,974.6 2003.9,974.8 2005.4,974.5 2006.9,974.5 2008.4,974.3 2009.9,973.5 2011.4,972.3 2012.9,973.0 2014.4,973.5 2015.9,973.9 2017.4,974.0 2018.9,973.0 2020.4,973.3 2021.9,974.6 2023.4,975.6 2024.9,976.1 2026.4,975.0 2027.9,973.7 2029.4,974.4 2030.9,974.9 2032.4,975.3 2033.9,975.7 2035.4,974.9 2036.9,973.4 2038.4,972.5 2039.9,973.7 2041.4,975.5 2042.9,975.1 2044.4,973.3 2045.9,972.8 2047.4,974.0 2048.9,974.9 2050.4,975.2 2051.9,977.0 2053.4,977.1 2054.9,975.7 2056.4,976.8 2057.9,975.9 2059.4,972.0 2060.9,971.0 2062.4,972.7 2063.9,973.4 2065.4,973.4 2066.9,974.5 2068.4,975.0 2069.9,973.4 2071.4,972.4 2072.9,974.4 2074.4,976.9 2075.9,977.8 2077.4,975.7 2078.9,972.1 2080.4,971.9 2081.9,973.1 2083.4,973.5 2084.9,974.5 2086.4,975.3 2087.9,975.9 2089.4,975.7 2090.9,974.9 2092.4,974.6 2093.9,972.3 2095.4,971.0 2096.9,970.9 2098.4,971.9 2099.9,973.9 2101.4,974.1 2102.9,972.5 2104.4,973.5 2105.0,974.9"/>
<path stroke="#05AD68" d="M31.4,809.0 32.9,806.4 34.4,805.4 35.9,805.6 37.4,805.2 38.9,803.9 40.4,802.2 41.9,801.7 43.4,802.9 44.9,803.7 46.4,804.8 47.9,804.3 49.4,803.5 50.9,804.5 52.4,805.2 53.9,803.6 55.4,801.3 56.9,800.4 58.4,799.6 59.9,798.4 61.4,795.4 62.9,791.0 64.4,788.9 65.9,788.4 67.4,788.1 68.9,790.3 70.4,791.5 71.9,793.8 73.4,797.1 74.9,797.8 76.4,798.3 77.9,799.5 79.4,799.9 80.9,800.4 82.4,803.2 83.9,806.2 85.4,806.1 86.9,805.3 88.4,805.5 89.9,806.4 91.4,806.0 92.9,804.9 94.4,805.7 95.9,807.0 97.4,808.0 98.9,807.4 100.4,806.7 101.9,805.1 103.4,804.9 104.9,804.2 106.4,804.2 107.9,804.9 109.4,803.8 110.9,803.2 112.4,803.3 113.9,803.8 115.4,802.6 116.9,800.8 118.4,802.2 119.9,803.8 121.4,806.1 122.9,806.1 124.4,803.8 125.9,802.0 127.4,804.4 128.9,804.0 130.4,802.6 131.9,804.3 133.4,804.9 134.9,803.3 136.4,804.0 137.9,803.4 139.4,802.2 140.9,801.9 142.4,802.1 143.9,803.4 145.4,804.7 146.9,806.1 148.4,806.0 149.9,804.6 151.4,803.8 152.9,802.5 154.4,802.3 155.9,801.3 157.4,801.7 158.9,802.9 160.4,802.7 161.9,802.5 163.4,801.4 164.9,802.2 166.4,804.9 167.9,805.6 169.4,804.5 170.9,805.9 172.4,807.0 173.9,807.4 175.4,805.2 176.9,803.8 178.4,803.8 179.9,803.3 181.4,804.2 182.9,805.5 184.4,806.7 185.9,805.3 187.4,802.7 188.9,801.8 190.4,801.6 191.9,800.9 193.4,803.0 194.9,807.2 196.4,807.5 197.9,807.5 199.4,806.0 200.9,804.6 202.4,804.6 203.9,806.7 205.4,807.4 206.9,807.8 208.4,807.1 209.9,808.2 211.4,807.7 212.9,805.1 214.4,804.8 215.9,803.9 217.4,803.9 218.9,806.1 220.4,808.4 221.9,808.8 223.4,807.9 224.9,808.4 226.4,808.1 227.9,806.5 229.4,805.7 230.9,808.5 232.4,810.9 233.9,807.8 235.4,805.9 236.9,806.7 238.4,809.8 239.9,811.5 241.4,811.5 242.9,810.7 244.4,809.1 245.9,808.6 247.4,807.8 248.9,809.4 250.4,809.5 251.9,807.7 253.4,807.0 254.9,804.8 256.4,803.1 257.9,802.9 259.4,803.4 260.9,804.4 262.4,806.9 263.9,808.7 265.4,806.9 266.9,805.7 268.4,806.5 269.9,806.5 271.4,806.8 272.9,807.4 274.4,807.1 275.9,805.9 277.4,806.2 278.9,806.9 280.4,805.7 281.9,805.2 283.4,805.7 284.9,805.7 286.4,805.3 287.9,805.4 289.4,804.3 290.9,803.4 292.4,804.3 293.9,805.9 295.4,808.4 296.9,806.6 298.4,804.8 299.9,806.0 301.4,807.3 302.9,806.8 304.4,805.4 305.9,805.0 307.4,804.0 308.9,801.6 310.4,799.5 311.9,798.6 313.4,797.2 314.9,799.4 316.4,802.8 317.9,802.7 319.4,801.1 320.9,799.5 322.4,798.8 323.9,798.1 325.4,796.6 326.9,797.1 328.4,801.3 329.9,802.9 331.4,801.3 332.9,800.6 334.4,799.6 335.9,799.6 337.4,799.6 338.9,800.9 340.4,800.2 341.9,799.1 343.4,801.1 344.9,802.6 346.4,801.0 347.9,799.8 349.4,799.7 350.9,800.6 352.4,802.0 353.9,800.7 355.4,798.3 356.9,799.8 358.4,801.3 359.9,802.6 361.4,802.5 362.9,801.6 364.4,799.5 365.9,798.7 367.4,800.9 368.9,802.8 370.4,802.6 371.9,801.4 373.4,799.9 374.9,798.1 376.4,795.6 377.9,794.0 379.4,793.1 380.9,794.2 382.4,795.3 383.9,796.8 385.4,797.9 386.9,796.0 388.4,794.5 389.9,797.8 391.4,799.2 392.9,798.7 394.4,798.0 395.9,799.6 397.4,799.8 398.9,798.0 400.4,798.6 401.9,797.7 403.4,797.5 404.9,799.8 406.4,800.8 407.9,797.8 409.4,797.6 410.9,799.6 412.4,800.8 413.9,800.6 415.4,800.1 416.9,799.7 418.4,801.1 419.9,801.0 421.4,798.3 422.9,797.9 424.4,799.3 425.9,799.8 427.4,798.8 428.9,796.8 430.4,796.6 431.9,797.9 433.4,798.9 434.9,796.9 436.4,794.0 437.9,792.4 439.4,792.5 440.9,791.6 442.4,788.6 443.9,788.5 445.4,790.1 446.9,790.8 448.4,789.6 449.9,787.9 451.4,784.7 452.9,781.1 454.4,779.8 455.9,780.5 457.4,781.1 458.9,780.4 460.4,780.3 461.9,779.6 463.4,775.6 464.9,776.2 466.4,779.4 467.9,777.5 469.4,774.2 470.9,773.4 472.4,775.0 473.9,775.5 475.4,773.6 476.9,771.0 478.4,770.6 479.9,770.5 481.4,769.3 482.9,767.6 484.4,769.0 485.9,768.9 487.4,766.4 488.9,767.1 490.4,767.9 491.9,765.7 493.4,762.7 494.9,760.5 496.4,758.7 497.9,757.1 499.4,755.0 500.9,753.6 502.4,751.4 503.9,750.4 505.4,750.6 506.9,748.6 508.4,747.8 509.9,745.2 511.4,745.3 512.9,743.7 514.4,740.3 515.9,738.9 517.4,737.8 518.9,737.7 520.4,737.8 521.9,735.1 523.4,734.2 524.9,736.9 526.4,737.4 527.9,736.4 529.4,737.0 530.9,739.0 532.4,739.9 533.9,739.3 535.4,739.1 536.9,740.4 538.4,740.3 539.9,739.2 541.4,738.4 542.9,734.2 544.4,731.3 545.9,730.1 547.4,727.4 548.9,724.6 550.4,722.3 551.9,719.7 553.4,716.0 554.9,713.9 556.4,711.9 557.9,711.1 559.4,712.8 560.9,711.7 562.4,709.9 563.9,709.2 565.4,708.4 566.9,709.8 568.4,709.4 569.9,707.0 571.4,707.5 572.9,707.8 574.4,707.3 575.9,705.3 577.4,702.4 578.9,700.8 580.4,701.4 581.9,703.7 583.4,706.2 584.9,706.6 586.4,706.5 587.9,705.5 589.4,701.9 590.9,700.9 592.4,702.3 593.9,703.7 595.4,704.1 596.9,707.0 598.4,711.4 599.9,713.6 601.4,713.7 602.9,711.6 604.4,711.0 605.9,712.3 607.4,712.7 608.9,714.0 610.4,715.8 611.9,718.4 613.4,720.9 614.9,722.0 616.4,721.5 617.9,720.9 619.4,721.3 620.9,720.7 622.4,719.7 623.9,719.9 625.4,722.5 626.9,725.7 628.4,727.4 629.9,728.1 631.4,729.1 632.9,730.8 634.4,733.8 635.9,734.3 637.4,734.6 638.9,735.7 640.4,735.9 641.9,736.8 643.4,737.2 644.9,735.2 646.4,734.7 647.9,735.5 649.4,737.5 650.9,740.0 652.4,741.1 653.9,740.6 655.4,739.6 656.9,742.6 658.4,744.4 659.9,743.7 661.4,741.5 662.9,739.4 664.4,738.6 665.9,736.8 667.4,735.0 668.9,733.7 670.4,733.6 671.9,734.3 673.4,733.8 674.9,732.0 676.4,730.4 677.9,729.4 679.4,728.1 680.9,725.0 682.4,722.0 683.9,719.4 685.4,716.4 686.9,714.7 688.4,712.8 689.9,709.2 691.4,706.1 692.9,701.6 694.4,696.2 695.9,692.0 697.4,687.1 698.9,680.9 700.4,677.1 701.9,672.6 703.4,666.8 704.9,663.2 706.4,658.5 707.9,653.7 709.4,650.6 710.9,646.3 712.4,643.2 713.9,642.1 715.4,642.7 716.9,642.2 718.4,641.9 719.9,643.5 721.4,646.1 722.9,648.7 724.4,651.8 725.9,655.3 727.4,658.7 728.9,665.5 730.4,674.3 731.9,680.3 733.4,685.8 734.9,694.4 736.4,701.9 737.9,710.2 739.4,716.8 740.9,721.8 742.4,725.9 743.9,732.1 745.4,738.7 746.9,743.5 748.4,747.0 749.9,750.6 751.4,753.9 752.9,756.5 754.4,759.4 755.9,761.2 757.4,761.8 758.9,764.2 760.4,766.8 761.9,769.8 763.4,771.7 764.9,771.7 766.4,774.0 767.9,777.3 769.4,778.3 770.9,777.8 772.4,778.9 773.9,779.4 775.4,779.1 776.9,779.5 778.4,781.5 779.9,783.0 781.4,783.9 782.9,785.6 784.4,786.2 785.9,788.2 787.4,791.5 788.9,792.2 790.4,792.6 791.9,794.7 793.4,796.3 794.9,797.1 796.4,797.7 797.9,796.1 799.4,796.1 800.9,797.3 802.4,796.9 803.9,796.7 805.4,795.0 806.9,795.0 808.4,796.5 809.9,798.1 811.4,799.2 812.9,797.7 814.4,797.6 815.9,798.4 817.4,799.0 818.9,799.4 820.4,797.8 821.9,796.6 823.4,797.1 824.9,799.2 826.4,799.8 827.9,799.7 829.4,799.0 830.9,798.4 832.4,800.1 833.9,801.9 835.4,802.9 836.9,801.6 838.4,800.0 839.9,801.3 841.4,802.7 842.9,800.2 844.4,799.5 845.9,802.6 847.4,804.8 848.9,803.5 850.4,803.4 851.9,805.6 853.4,805.1 854.9,806.2 856.4,807.2 857.9,806.4 859.4,806.7 860.9,806.5 862.4,804.7 863.9,806.1 865.4,807.9 866.9,807.4 868.4,805.6 869.9,805.0 871.4,804.1 872.9,803.4 874.4,804.1 875.9,806.1 877.4,807.0 878.9,805.7 880.4,802.2 881.9,802.7 883.4,806.0 884.9,807.1 886.4,803.7 887.9,801.2 889.4,802.3 890.9,804.5 892.4,806.5 893.9,807.3 895.4,806.5 896.9,806.3 898.4,806.8 899.9,804.7 901.4,804.2 902.9,804.6 904.4,803.7 905.9,804.0 907.4,804.6 908.9,803.6 910.4,804.0 911.9,806.3 913.4,809.0 914.9,807.5 916.4,805.1 917.9,804.7 919.4,803.6 920.9,803.1 922.4,802.5 923.9,803.8 925.4,803.2 926.9,802.2 928.4,804.2 929.9,805.7 931.4,805.1 932.9,803.4 934.4,802.2 935.9,802.2 937.4,800.4 938.9,802.5 940.4,804.7 941.9,801.2 943.4,798.8 944.9,800.5 946.4,802.9 947.9,804.1 949.4,804.9 950.9,803.5 952.4,802.6 953.9,803.8 955.4,803.9 956.9,805.3 958.4,806.7 959.9,806.3 961.4,804.9 962.9,802.0 964.4,801.6 965.9,802.1 967.4,802.5 968.9,805.4 970.4,806.5 971.9,805.2 973.4,803.8 974.9,801.6 976.4,799.6 977.9,799.6 979.4,800.8 980.9,801.8 982.4,802.1 983.9,801.6 985.4,800.3 986.9,801.2 988.4,804.0 989.9,804.7 991.4,803.2 992.9,805.0 994.4,806.8 995.9,806.3 997.4,805.8 998.9,805.3 1000.4,805.0 1001.9,803.8 1003.4,803.7 1004.9,806.4 1006.4,806.3 1007.9,805.6 1009.4,806.7 1010.9,806.1 1012.4,804.7 1013.9,802.6 1015.4,804.1 1016.9,808.1 1018.4,810.8 1019.9,811.7 1021.4,811.4 1022.9,809.4 1024.4,804.5 1025.9,800.4 1027.4,799.9 1028.9,803.2 1030.4,806.1 1031.9,807.8 1033.4,807.5 1034.9,806.9 1036.4,805.3 1037.9,806.9 1039.4,807.3 1040.9,807.9 1042.4,806.8 1043.9,804.6 1045.4,804.8 1046.9,804.8 1048.4,806.0 1049.9,806.4 1051.4,805.5 1052.9,804.3 1054.4,803.6 1055.9,802.3 1057.4,801.2 1058.9,804.3 1060.4,805.3 1061.9,804.3 1063.4,803.3 1064.9,804.0 1066.4,805.1 1067.9,805.9 1069.4,804.5 1070.9,805.4 1072.4,805.0 1073.9,805.2 1075.4,804.4 1076.9,802.0 1078.4,801.6 1079.9,803.4 1081.4,802.5 1082.9,804.4 1084.4,808.4 1085.9,809.0 1087.4,805.6 1088.9,802.4 1090.4,803.2 1091.9,803.9 1093.4,804.3 1094.9,806.3 1096.4,806.0 1097.9,804.8 1099.4,802.7 1100.9,800.2 1102.4,799.7 1103.9,801.2 1105.4,803.7 1106.9,803.3 1108.4,802.7 1109.9,802.7 1111.4,803.5 1112.9,804.9 1114.4,804.0 1115.9,802.4 1117.4,802.5 1118.9,802.2 1120.4,800.1 1121.9,801.5 1123.4,801.4 1124.9,801.1 1126.4,800.5 1127.9,799.6 1129.4,796.2 1130.9,791.8 1132.4,793.4 1133.9,795.2 1135.4,794.5 1136.9,794.9 1138.4,797.4 1139.9,797.6 1141.4,799.2 1142.9,799.9 1144.4,797.7 1145.9,798.3 1147.4,799.9 1148.9,798.2 1150.4,795.5 1151.9,794.9 1153.4,798.1 1154.9,797.2 1156.4,795.9 1157.9,797.6 1159.4,797.4 1160.9,796.6 1162.4,796.9 1163.9,798.7 1165.4,798.6 1166.9,797.0 1168.4,797.9 1169.9,799.6 1171.4,797.9 1172.9,797.0 1174.4,797.8 1175.9,796.0 1177.4,794.2 1178.9,792.3 1180.4,792.0 1181.9,793.5 1183.4,795.9 1184.9,796.3 1186.4,794.8 1187.9,794.6 1189.4,794.2 1190.9,793.5 1192.4,792.0 1193.9,792.2 1195.4,792.7 1196.9,795.0 1198.4,797.7 1199.9,796.8 1201.4,796.5 1202.9,794.3 1204.4,790.9 1205.9,792.2 1207.4,792.3 1208.9,789.1 1210.4,791.5 1211.9,796.5 1213.4,793.6 1214.9,790.1 1216.4,789.2 1217.9,788.5 1219.4,789.2 1220.9,789.6 1222.4,790.0 1223.9,792.5 1225.4,793.3 1226.9,790.5 1228.4,786.3 1229.9,784.1 1231.4,783.9 1232.9,785.3 1234.4,784.9 1235.9,783.9 1237.4,784.1 1238.9,785.4 1240.4,785.1 1241.9,785.0 1243.4,787.5 1244.9,786.2 1246.4,784.3 1247.9,785.5 1249.4,786.5 1250.9,789.4 1252.4,789.9 1253.9,789.1 1255.4,788.3 1256.9,784.5 1258.4,783.1 1259.9,782.1 1261.4,780.6 1262.9,781.6 1264.4,784.6 1265.9,783.7 1267.4,782.1 1268.9,784.9 1270.4,788.7 1271.9,785.4 1273.4,781.9 1274.9,782.9 1276.4,784.6 1277.9,783.4 1279.4,782.2 1280.9,781.7 1282.4,781.3 1283.9,782.6 1285.4,784.2 1286.9,782.4 1288.4,779.0 1289.9,777.0 1291.4,781.4 1292.9,783.8 1294.4,782.0 1295.9,781.1 1297.4,780.4 1298.9,781.3 1300.4,780.3 1301.9,778.6 1303.4,782.2 1304.9,783.6 1306.4,780.4 1307.9,778.0 1309.4,778.7 1310.9,780.0 1312.4,780.7 1313.9,779.5 1315.4,779.1 1316.9,780.2 1318.4,779.4 1319.9,776.9 1321.4,774.4 1322.9,773.2 1324.4,772.8 1325.9,773.0 1327.4,774.8 1328.9,776.6 1330.4,774.9 1331.9,772.3 1333.4,771.4 1334.9,774.1 1336.4,774.9 1337.9,775.2 1339.4,774.4 1340.9,772.8 1342.4,771.9 1343.9,770.0 1345.4,771.5 1346.9,774.1 1348.4,773.0 1349.9,773.1 1351.4,772.8 1352.9,772.9 1354.4,775.0 1355.9,774.9 1357.4,776.1 1358.9,775.9 1360.4,771.7 1361.9,771.7 1363.4,773.4 1364.9,773.4 1366.4,774.2 1367.9,773.7 1369.4,772.4 1370.9,770.9 1372.4,767.6 1373.9,764.8 1375.4,765.0 1376.9,767.4 1378.4,768.6 1379.9,769.4 1381.4,765.8 1382.9,762.5 1384.4,764.1 1385.9,769.0 1387.4,769.8 1388.9,768.4 1390.4,767.5 1391.9,768.2 1393.4,766.1 1394.9,766.0 1396.4,767.4 1397.9,768.1 1399.4,766.0 1400.9,765.7 1402.4,766.6 1403.9,767.4 1405.4,768.4 1406.9,769.8 1408.4,769.6 1409.9,767.4 1411.4,766.7 1412.9,767.2 1414.4,767.3 1415.9,766.9 1417.4,767.3 1418.9,767.4 1420.4,766.7 1421.9,765.0 1423.4,764.4 1424.9,762.7 1426.4,761.1 1427.9,763.0 1429.4,765.1 1430.9,764.7 1432.4,764.9 1433.9,767.8 1435.4,769.6 1436.9,768.7 1438.4,766.2 1439.9,763.8 1441.4,765.9 1442.9,768.6 1444.4,767.6 1445.9,765.4 1447.4,764.4 1448.9,762.1 1450.4,761.1 1451.9,761.9 1453.4,761.3 1454.9,759.6 1456.4,760.3 1457.9,761.4 1459.4,760.2 1460.9,760.2 1462.4,761.3 1463.9,761.7 1465.4,760.7 1466.9,761.1 1468.4,761.4 1469.9,758.9 1471.4,756.6 1472.9,756.7 1474.4,758.8 1475.9,758.2 1477.4,756.2 1478.9,754.9 1480.4,755.9 1481.9,756.9 1483.4,758.0 1484.9,759.2 1486.4,761.3 1487.9,762.4 1489.4,759.9 1490.9,759.3 1492.4,759.5 1493.9,760.4 1495.4,762.3 1496.9,763.7 1498.4,763.4 1499.9,763.6 1501.4,764.2 1502.9,763.4 1504.4,762.5 1505.9,762.9 1507.4,762.3 1508.9,761.6 1510.4,764.2 1511.9,765.8 1513.4,766.1 1514.9,764.4 1516.4,761.9 1517.9,762.1 1519.4,762.9 1520.9,763.5 1522.4,765.3 1523.9,765.8 1525.4,768.2 1526.9,768.4 1528.4,766.6 1529.9,764.4 1531.4,764.6 1532.9,766.9 1534.4,770.9 1535.9,773.3 1537.4,770.5 1538.9,765.2 1540.4,765.4 1541.9,766.4 1543.4,767.7 1544.9,767.4 1546.4,765.8 1547.9,767.3 1549.4,770.3 1550.9,770.2 1552.4,769.4 1553.9,769.3 1555.4,769.2 1556.9,770.7 1558.4,771.5 1559.9,771.4 1561.4,769.7 1562.9,771.3 1564.4,771.8 1565.9,771.0 1567.4,772.6 1568.9,775.9 1570.4,777.5 1571.9,776.9 1573.4,776.6 1574.9,776.6 1576.4,778.5 1577.9,781.9 1579.4,782.4 1580.9,781.3 1582.4,778.9 1583.9,778.2 1585.4,778.6 1586.9,779.6 1588.4,780.0 1589.9,780.1 1591.4,777.6 1592.9,774.3 1594.4,772.4 1595.9,773.1 1597.4,774.3 1598.9,773.5 1600.4,774.1 1601.9,775.9 1603.4,775.5 1604.9,772.5 1606.4,771.2 1607.9,771.1 1609.4,772.7 1610.9,773.5 1612.4,772.7 1613.9,770.9 1615.4,770.5 1616.9,771.2 1618.4,773.8 1619.9,774.3 1621.4,774.7 1622.9,776.9 1624.4,777.8 1625.9,777.1 1627.4,777.6 1628.9,778.2 1630.4,777.3 1631.9,776.5 1633.4,778.0 1634.9,780.7 1636.4,780.4 1637.9,778.7 1639.4,779.9 1640.9,781.9 1642.4,781.0 1643.9,778.8 1645.4,778.5 1646.9,781.6 1648.4,783.8 1649.9,781.5 1651.4,779.2 1652.9,780.0 1654.4,781.2 1655.9,779.4 1657.4,780.4 1658.9,782.5 1660.4,784.8 1661.9,788.1 1663.4,787.7 1664.9,787.3 1666.4,787.8 1667.9,785.6 1669.4,783.5 1670.9,784.7 1672.4,785.0 1673.9,785.8 1675.4,787.2 1676.9,785.9 1678.4,786.2 1679.9,787.6 1681.4,789.9 1682.9,791.3 1684.4,789.0 1685.9,789.5 1687.4,791.5 1688.9,790.5 1690.4,789.1 1691.9,790.2 1693.4,791.7 1694.9,791.7 1696.4,795.2 1697.9,796.6 1699.4,794.4 1700.9,793.7 1702.4,793.7 1703.9,793.3 1705.4,792.4 1706.9,789.9 1708.4,790.2 1709.9,792.9 1711.4,796.0 1712.9,799.1 1714.4,800.9 1715.9,801.7 1717.4,801.4 1718.9,801.4 1720.4,801.2 1721.9,799.4 1723.4,798.4 1724.9,798.2 1726.4,798.0 1727.9,799.2 1729.4,799.8 1730.9,798.9 1732.4,799.1 1733.9,801.3 1735.4,804.7 1736.9,805.1 1738.4,803.4 1739.9,803.9 1741.4,802.6 1742.9,800.7 1744.4,800.7 1745.9,800.3 1747.4,799.4 1748.9,799.3 1750.4,800.0 1751.9,799.3 1753.4,800.8 1754.9,804.6 1756.4,806.3 1757.9,804.4 1759.4,803.6 1760.9,803.8 1762.4,803.5 1763.9,802.2 1765.4,798.9 1766.9,799.4 1768.4,800.0 1769.9,801.8 1771.4,803.3 1772.9,801.7 1774.4,800.1 1775.9,799.9 1777.4,799.7 1778.9,799.7 1780.4,798.9 1781.9,797.6 1783.4,797.9 1784.9,800.1 1786.4,799.4 1787.9,797.4 1789.4,797.8 1790.9,799.3 1792.4,799.9 1793.9,802.1 1795.4,806.1 1796.9,808.3 1798.4,806.0 1799.9,803.2 1801.4,799.5 1802.9,799.4 1804.4,801.5 1805.9,801.4 1807.4,800.6 1808.9,803.0 1810.4,804.0 1811.9,803.4 1813.4,802.5 1814.9,802.0 1816.4,803.0 1817.9,802.4 1819.4,801.6 1820.9,801.4 1822.4,800.0 1823.9,799.9 1825.4,800.8 1826.9,801.5 1828.4,801.4 1829.9,800.6 1831.4,798.6 1832.9,799.1 1834.4,801.6 1835.9,801.8 1837.4,801.2 1838.9,802.4 1840.4,803.9 1841.9,804.6 1843.4,803.3 1844.9,801.6 1846.4,802.8 1847.9,804.5 1849.4,803.7 1850.9,802.5 1852.4,802.8 1853.9,801.0 1855.4,799.1 1856.9,798.1 1858.4,800.3 1859.9,801.8 1861.4,801.5 1862.9,800.9 1864.4,800.6 1865.9,801.2 1867.4,801.0 1868.9,801.6 1870.4,801.6 1871.9,800.9 1873.4,800.9 1874.9,800.5 1876.4,799.0 1877.9,799.4 1879.4,804.3 1880.9,806.6 1882.4,803.5 1883.9,801.0 1885.4,800.6 1886.9,800.3 1888.4,803.1 1889.9,805.3 1891.4,804.0 1892.9,801.0 1894.4,797.8 1895.9,797.9 1897.4,799.8 1898.9,802.8 1900.4,802.1 1901.9,801.2 1903.4,802.7 1904.9,803.7 1906.4,802.4 1907.9,800.6 1909.4,801.3 1910.9,801.8 1912.4,801.2 1913.9,801.1 1915.4,800.4 1916.9,801.9 1918.4,803.0 1919.9,801.4 1921.4,799.7 1922.9,801.2 1924.4,802.6 1925.9,801.6 1927.4,799.4 1928.9,799.9 1930.4,803.2 1931.9,806.5 1933.4,804.3 1934.9,802.1 1936.4,802.4 1937.9,801.5 1939.4,802.2 1940.9,804.8 1942.4,804.6 1943.9,801.6 1945.4,797.2 1946.9,795.1 1948.4,798.1 1949.9,800.8 1951.4,803.8 1952.9,803.6 1954.4,799.7 1955.9,798.2 1957.4,799.9 1958.9,801.9 1960.4,801.7 1961.9,797.8 1963.4,795.9 1964.9,797.9 1966.4,799.5 1967.9,801.3 1969.4,802.7 1970.9,801.7 1972.4,801.7 1973.9,801.3 1975.4,801.9 1976.9,802.2 1978.4,799.9 1979.9,797.2 1981.4,797.6 1982.9,798.3 1984.4,796.8 1985.9,796.4 1987.4,797.3 1988.9,798.5 1990.4,800.7 1991.9,799.5 1993.4,796.5 1994.9,798.3 1996.4,799.3 1997.9,801.1 1999.4,803.5 2000.9,802.5 2002.4,800.6 2003.9,800.0 2005.4,801.6 2006.9,803.2 2008.4,803.0 2009.9,802.6 2011.4,804.1 2012.9,804.0 2014.4,804.7 2015.9,804.8 2017.4,806.4 2018.9,805.6 2020.4,802.0 2021.9,801.1 2023.4,802.0 2024.9,802.2 2026.4,800.3 2027.9,802.0 2029.4,807.4 2030.9,807.5 2032.4,805.9 2033.9,804.5 2035.4,804.2 2036.9,804.4 2038.4,803.3 2039.9,802.0 2041.4,802.6 2042.9,803.9 2044.4,802.9 2045.9,803.4 2047.4,803.4 2048.9,803.4 2050.4,803.7 2051.9,801.0 2053.4,799.3 2054.9,802.4 2056.4,803.8 2057.9,804.3 2059.4,804.8 2060.9,804.4 2062.4,804.7 2063.9,804.8 2065.4,804.8 2066.9,801.3 2068.4,799.9 2069.9,798.8 2071.4,796.8 2072.9,796.8 2074.4,797.2 2075.9,796.5 2077.4,798.7 2078.9,800.0 2080.4,797.7 2081.9,796.2 2083.4,796.0 2084.9,797.4 2086.4,798.2 2087.9,797.5 2089.4,797.9 2090.9,799.7 2092.4,799.7 2093.9,797.9 2095.4,797.7 2096.9,797.3 2098.4,797.2 2099.9,799.7 2101.4,801.6 2102.9,801.0 2104.4,800.5 2105.0,802.8"/>
<path stroke="#C27AE3" d="M31.4,613.3 32.9,611.7 34.4,613.1 35.9,614.6 37.4,614.2 38.9,614.9 40.4,615.7 41.9,615.2 43.4,616.3 44.9,617.3 46.4,617.2 47.9,617.0 49.4,616.1 50.9,615.7 52.4,615.7 53.9,615.6 55.4,616.4 56.9,616.0 58.4,615.5 59.9,616.5 61.4,616.5 62.9,615.7 64.4,615.5 65.9,615.5 67.4,614.9 68.9,615.6 70.4,617.3 71.9,617.9 73.4,617.9 74.9,617.8 76.4,617.5 77.9,616.7 79.4,617.4 80.9,618.1 82.4,618.5 83.9,618.3 85.4,617.3 86.9,617.7 88.4,619.0 89.9,619.0 91.4,617.8 92.9,617.0 94.4,618.1 95.9,618.2 97.4,617.2 98.9,615.9 100.4,615.6 101.9,615.3 103.4,616.5 104.9,617.0 106.4,616.6 107.9,616.3 109.4,616.7 110.9,616.4 112.4,616.0 113.9,616.8 115.4,616.8 116.9,616.7 118.4,617.3 119.9,616.6 121.4,615.8 122.9,615.3 124.4,616.0 125.9,618.4 127.4,619.7 128.9,618.4 130.4,617.7 131.9,618.3 133.4,619.7 134.9,620.5 136.4,619.3 137.9,618.5 139.4,618.9 140.9,618.6 142.4,617.9 143.9,617.3 145.4,616.9 146.9,616.8 148.4,617.1 149.9,618.7 151.4,618.4 152.9,615.8 154.4,615.0 155.9,616.3 157.4,617.8 158.9,618.7 160.4,618.5 161.9,618.1 163.4,616.9 164.9,616.8 166.4,616.9 167.9,616.4 169.4,616.8 170.9,618.0 172.4,618.6 173.9,618.1 175.4,617.5 176.9,619.4 178.4,621.0 179.9,620.7 181.4,618.8 182.9,617.9 184.4,618.5 185.9,618.7 187.4,618.0 188.9,616.4 190.4,616.9 191.9,617.5 193.4,616.9 194.9,617.5 196.4,619.2 197.9,618.9 199.4,618.3 200.9,618.9 202.4,618.0 203.9,616.8 205.4,616.7 206.9,617.3 208.4,618.1 209.9,618.2 211.4,618.0 212.9,618.0 214.4,618.2 215.9,618.0 217.4,617.9 218.9,618.0 220.4,619.0 221.9,619.0 223.4,618.2 224.9,617.7 226.4,617.2 227.9,617.3 229.4,618.1 230.9,618.0 232.4,616.8 233.9,617.3 235.4,617.8 236.9,616.8 238.4,616.8 239.9,618.0 241.4,618.6 242.9,619.5 244.4,619.2 245.9,618.1 247.4,617.5 248.9,617.2 250.4,616.9 251.9,616.2 253.4,615.6 254.9,616.1 256.4,616.5 257.9,615.8 259.4,615.6 260.9,616.9 262.4,619.0 263.9,619.6 265.4,618.6 266.9,617.9 268.4,617.6 269.9,616.9 271.4,617.7 272.9,618.8 274.4,619.6 275.9,618.5 277.4,617.1 278.9,616.6 280.4,616.3 281.9,616.5 283.4,616.6 284.9,617.2 286.4,617.0 287.9,616.3 289.4,615.9 290.9,614.1 292.4,614.5 293.9,616.5 295.4,617.7 296.9,617.7 298.4,616.3 299.9,615.7 301.4,615.7 302.9,615.2 304.4,615.0 305.9,614.6 307.4,614.7 308.9,615.6 310.4,615.4 311.9,614.9 313.4,615.0 314.9,614.3 316.4,614.7 317.9,614.9 319.4,613.7 320.9,612.5 322.4,612.6 323.9,614.0 325.4,614.8 326.9,613.2 328.4,611.6 329.9,611.6 331.4,612.3 332.9,614.1 334.4,614.5 335.9,613.2 337.4,611.1 338.9,610.5 340.4,611.1 341.9,612.0 343.4,612.2 344.9,612.5 346.4,612.8 347.9,612.6 349.4,613.3 350.9,613.1 352.4,612.0 353.9,612.7 355.4,614.0 356.9,613.1 358.4,611.6 359.9,611.6 361.4,612.0 362.9,612.1 364.4,611.7 365.9,611.7 367.4,611.0 368.9,610.7 370.4,611.1 371.9,610.0 373.4,608.5 374.9,608.7 376.4,609.0 377.9,609.2 379.4,608.8 380.9,607.5 382.4,607.5 383.9,607.4 385.4,607.1 386.9,606.2 388.4,606.5 389.9,606.9 391.4,606.0 392.9,604.4 394.4,602.1 395.9,601.6 397.4,602.1 398.9,602.6 400.4,602.9 401.9,602.9 403.4,602.9 404.9,604.4 406.4,604.5 407.9,603.0 409.4,603.3 410.9,603.6 412.4,602.5 413.9,602.3 415.4,602.9 416.9,602.8 418.4,601.8 419.9,601.1 421.4,600.9 422.9,600.6 424.4,600.3 425.9,599.1 427.4,597.8 428.9,597.7 430.4,598.1 431.9,596.5 433.4,595.1 434.9,595.1 436.4,594.6 437.9,594.2 439.4,593.3 440.9,592.5 442.4,591.8 443.9,591.0 445.4,589.8 446.9,588.7 448.4,588.6 449.9,587.7 451.4,585.9 452.9,585.6 454.4,586.1 455.9,586.5 457.4,586.4 458.9,585.4 460.4,584.0 461.9,582.6 463.4,581.6 464.9,580.6 466.4,579.1 467.9,577.1 469.4,577.3 470.9,577.4 472.4,575.2 473.9,573.1 475.4,572.5 476.9,572.5 478.4,571.6 479.9,569.4 481.4,569.1 482.9,569.4 484.4,567.8 485.9,566.1 487.4,565.6 488.9,564.1 490.4,562.4 491.9,561.1 493.4,560.2 494.9,560.1 496.4,559.4 497.9,558.0 499.4,556.6 500.9,554.9 502.4,553.1 503.9,551.7 505.4,550.1 506.9,548.7 508.4,547.8 509.9,546.4 511.4,543.5 512.9,542.2 514.4,541.3 515.9,539.4 517.4,537.8 518.9,536.5 520.4,535.2 521.9,533.7 523.4,531.9 524.9,530.5 526.4,529.3 527.9,528.4 529.4,527.1 530.9,526.0 532.4,526.0 533.9,525.9 535.4,525.2 536.9,524.5 538.4,523.7 539.9,522.5 541.4,521.2 542.9,519.9 544.4,517.4 545.9,515.0 547.4,513.4 548.9,510.6 550.4,507.4 551.9,505.3 553.4,503.6 554.9,502.3 556.4,499.9 557.9,497.3 559.4,496.6 560.9,496.7 562.4,495.2 563.9,493.5 565.4,492.2 566.9,491.7 568.4,491.6 569.9,490.6 571.4,489.7 572.9,490.0 574.4,490.7 575.9,490.1 577.4,489.5 578.9,489.2 580.4,487.3 581.9,486.3 583.4,487.7 584.9,489.1 586.4,489.3 587.9,489.1 589.4,490.1 590.9,491.6 592.4,493.6 593.9,494.8 595.4,495.1 596.9,495.8 598.4,497.7 599.9,499.4 601.4,500.8 602.9,502.6 604.4,504.0 605.9,504.2 607.4,505.3 608.9,507.9 610.4,510.0 611.9,510.7 613.4,511.2 614.9,513.1 616.4,515.0 617.9,516.9 619.4,518.1 620.9,518.8 622.4,519.8 623.9,521.1 625.4,522.9 626.9,524.3 628.4,524.6 629.9,525.8 631.4,526.6 632.9,527.1 634.4,527.8 635.9,528.4 637.4,531.2 638.9,532.5 640.4,531.9 641.9,531.4 643.4,531.8 644.9,533.1 646.4,534.4 647.9,533.9 649.4,533.4 650.9,533.1 652.4,533.8 653.9,534.4 655.4,534.5 656.9,534.9 658.4,534.7 659.9,534.4 661.4,533.6 662.9,532.9 664.4,533.3 665.9,534.0 667.4,533.9 668.9,532.4 670.4,531.1 671.9,530.2 673.4,529.1 674.9,527.9 676.4,526.5 677.9,525.4 679.4,523.4 680.9,520.3 682.4,517.4 683.9,514.2 685.4,510.8 686.9,506.0 688.4,501.1 689.9,497.1 691.4,493.4 692.9,488.9 694.4,483.6 695.9,477.9 697.4,472.3 698.9,468.7 700.4,464.4 701.9,459.6 703.4,456.8 704.9,453.6 706.4,450.6 707.9,448.0 709.4,444.7 710.9,442.8 712.4,442.7 713.9,441.0 715.4,440.0 716.9,442.2 718.4,446.5 719.9,449.0 721.4,451.2 722.9,454.6 724.4,460.2 725.9,466.6 727.4,472.4 728.9,478.8 730.4,485.4 731.9,492.2 733.4,499.9 734.9,508.0 736.4,516.0 737.9,525.1 739.4,533.3 740.9,538.9 742.4,542.7 743.9,546.1 745.4,550.4 746.9,555.3 748.4,559.2 749.9,561.8 751.4,563.7 752.9,567.1 754.4,571.1 755.9,573.6 757.4,575.3 758.9,577.3 760.4,579.4 761.9,582.3 763.4,585.1 764.9,586.3 766.4,588.2 767.9,589.4 769.4,589.3 770.9,589.9 772.4,592.0 773.9,593.0 775.4,593.1 776.9,592.7 778.4,592.7 779.9,594.5 781.4,595.5 782.9,595.4 784.4,596.7 785.9,597.7 787.4,598.2 788.9,599.7 790.4,601.2 791.9,602.2 793.4,602.8 794.9,603.4 796.4,604.2 797.9,605.7 799.4,607.5 800.9,607.9 802.4,607.8 803.9,609.0 805.4,610.7 806.9,611.1 808.4,610.4 809.9,610.8 811.4,611.0 812.9,610.3 814.4,609.6 815.9,609.9 817.4,609.0 818.9,609.2 820.4,610.9 821.9,611.1 823.4,611.3 824.9,611.3 826.4,609.3 827.9,608.3 829.4,608.4 830.9,610.3 832.4,612.5 833.9,612.9 835.4,612.6 836.9,611.9 838.4,611.8 839.9,613.2 841.4,615.2 842.9,615.4 844.4,614.8 845.9,614.1 847.4,614.6 848.9,614.7 850.4,615.7 851.9,616.9 853.4,617.3 854.9,616.9 856.4,615.7 857.9,615.5 859.4,616.6 860.9,617.2 862.4,616.4 863.9,615.9 865.4,615.7 866.9,615.4 868.4,615.3 869.9,615.0 871.4,615.2 872.9,615.3 874.4,614.6 875.9,614.8 877.4,615.2 878.9,615.2 880.4,615.1 881.9,615.8 883.4,616.6 884.9,616.4 886.4,615.3 887.9,616.1 889.4,617.2 890.9,617.8 892.4,617.1 893.9,617.1 895.4,617.2 896.9,617.2 898.4,619.2 899.9,619.3 901.4,617.6 902.9,616.7 904.4,617.6 905.9,618.5 907.4,618.7 908.9,618.8 910.4,619.0 911.9,617.7 913.4,616.3 914.9,618.5 916.4,619.2 917.9,618.2 919.4,618.2 920.9,618.3 922.4,618.0 923.9,618.8 925.4,618.2 926.9,617.3 928.4,617.1 929.9,618.3 931.4,619.9 932.9,619.6 934.4,617.4 935.9,615.8 937.4,616.2 938.9,616.7 940.4,616.8 941.9,617.1 943.4,618.5 944.9,618.4 946.4,617.4 947.9,617.3 949.4,617.8 950.9,617.9 952.4,616.9 953.9,616.9 955.4,617.7 956.9,618.3 958.4,618.9 959.9,619.0 961.4,618.9 962.9,617.5 964.4,616.5 965.9,616.1 967.4,615.4 968.9,616.7 970.4,618.8 971.9,618.9 973.4,617.3 974.9,617.2 976.4,617.2 977.9,616.7 979.4,618.1 980.9,619.3 982.4,619.6 983.9,618.9 985.4,617.1 986.9,616.4 988.4,617.6 989.9,619.5 991.4,620.2 992.9,617.4 994.4,616.0 995.9,616.6 997.4,616.3 998.9,615.7 1000.4,616.7 1001.9,618.4 1003.4,618.6 1004.9,618.8 1006.4,619.5 1007.9,620.1 1009.4,618.8 1010.9,617.9 1012.4,616.9 1013.9,615.9 1015.4,615.4 1016.9,615.4 1018.4,615.8 1019.9,615.9 1021.4,615.6 1022.9,616.1 1024.4,616.7 1025.9,616.9 1027.4,618.2 1028.9,618.6 1030.4,617.9 1031.9,618.2 1033.4,619.7 1034.9,620.9 1036.4,621.3 1037.9,620.4 1039.4,618.2 1040.9,616.2 1042.4,615.4 1043.9,614.9 1045.4,615.6 1046.9,616.6 1048.4,616.9 1049.9,616.8 1051.4,617.4 1052.9,617.1 1054.4,616.1 1055.9,615.6 1057.4,615.3 1058.9,615.0 1060.4,614.4 1061.9,613.9 1063.4,614.4 1064.9,614.8 1066.4,614.0 1067.9,613.9 1069.4,615.7 1070.9,617.6 1072.4,617.2 1073.9,616.6 1075.4,616.8 1076.9,615.6 1078.4,613.8 1079.9,615.3 1081.4,617.1 1082.9,617.6 1084.4,617.3 1085.9,615.9 1087.4,614.0 1088.9,614.2 1090.4,615.8 1091.9,616.6 1093.4,615.8 1094.9,616.5 1096.4,617.7 1097.9,618.1 1099.4,617.9 1100.9,617.5 1102.4,615.9 1103.9,613.9 1105.4,613.6 1106.9,614.5 1108.4,615.0 1109.9,616.7 1111.4,616.9 1112.9,615.6 1114.4,614.7 1115.9,614.9 1117.4,615.4 1118.9,614.7 1120.4,614.3 1121.9,615.4 1123.4,614.9 1124.9,614.3 1126.4,614.8 1127.9,615.7 1129.4,616.5 1130.9,615.7 1132.4,614.7 1133.9,614.6 1135.4,614.2 1136.9,612.7 1138.4,611.9 1139.9,612.7 1141.4,612.9 1142.9,611.6 1144.4,611.4 1145.9,612.7 1147.4,613.8 1148.9,613.7 1150.4,612.9 1151.9,612.6 1153.4,611.4 1154.9,611.6 1156.4,613.2 1157.9,614.6 1159.4,613.4 1160.9,611.5 1162.4,611.6 1163.9,611.3 1165.4,611.5 1166.9,611.7 1168.4,610.3 1169.9,609.2 1171.4,609.7 1172.9,610.2 1174.4,609.7 1175.9,608.8 1177.4,608.7 1178.9,608.9 1180.4,609.3 1181.9,610.1 1183.4,609.8 1184.9,608.0 1186.4,606.9 1187.9,607.3 1189.4,607.6 1190.9,608.5 1192.4,608.2 1193.9,606.7 1195.4,604.8 1196.9,605.6 1198.4,606.1 1199.9,605.1 1201.4,605.9 1202.9,607.3 1204.4,606.7 1205.9,605.7 1207.4,606.6 1208.9,607.2 1210.4,606.9 1211.9,606.3 1213.4,605.6 1214.9,604.6 1216.4,603.5 1217.9,603.2 1219.4,604.7 1220.9,605.5 1222.4,605.4 1223.9,605.7 1225.4,605.3 1226.9,604.2 1228.4,604.4 1229.9,605.5 1231.4,605.7 1232.9,604.4 1234.4,603.5 1235.9,602.8 1237.4,603.1 1238.9,603.2 1240.4,602.0 1241.9,602.8 1243.4,602.6 1244.9,602.2 1246.4,602.6 1247.9,603.0 1249.4,603.5 1250.9,603.8 1252.4,602.6 1253.9,600.7 1255.4,601.0 1256.9,601.7 1258.4,601.1 1259.9,600.5 1261.4,601.9 1262.9,602.0 1264.4,601.8 1265.9,602.0 1267.4,599.5 1268.9,598.3 1270.4,598.6 1271.9,598.6 1273.4,597.7 1274.9,597.7 1276.4,598.7 1277.9,598.7 1279.4,599.3 1280.9,599.2 1282.4,597.4 1283.9,596.0 1285.4,596.4 1286.9,597.7 1288.4,598.2 1289.9,596.9 1291.4,595.8 1292.9,597.1 1294.4,598.9 1295.9,598.4 1297.4,596.5 1298.9,596.1 1300.4,595.5 1301.9,594.3 1303.4,594.0 1304.9,592.6 1306.4,592.0 1307.9,592.4 1309.4,592.9 1310.9,594.3 1312.4,594.9 1313.9,594.3 1315.4,594.6 1316.9,595.6 1318.4,596.5 1319.9,597.4 1321.4,595.8 1322.9,592.7 1324.4,592.0 1325.9,591.6 1327.4,591.8 1328.9,593.1 1330.4,592.6 1331.9,592.2 1333.4,594.0 1334.9,594.2 1336.4,592.7 1337.9,591.9 1339.4,591.0 1340.9,590.2 1342.4,589.3 1343.9,590.0 1345.4,590.7 1346.9,590.9 1348.4,591.4 1349.9,590.5 1351.4,590.4 1352.9,589.8 1354.4,589.2 1355.9,590.4 1357.4,590.9 1358.9,590.8 1360.4,590.3 1361.9,590.5 1363.4,591.0 1364.9,589.8 1366.4,588.8 1367.9,588.2 1369.4,588.2 1370.9,588.1 1372.4,588.4 1373.9,588.7 1375.4,587.5 1376.9,586.8 1378.4,587.6 1379.9,588.8 1381.4,587.4 1382.9,586.2 1384.4,585.8 1385.9,585.8 1387.4,586.8 1388.9,585.9 1390.4,585.5 1391.9,586.1 1393.4,586.2 1394.9,587.4 1396.4,587.7 1397.9,586.8 1399.4,584.8 1400.9,585.1 1402.4,585.9 1403.9,586.2 1405.4,587.2 1406.9,586.6 1408.4,585.7 1409.9,586.1 1411.4,586.4 1412.9,585.9 1414.4,585.4 1415.9,585.4 1417.4,585.7 1418.9,585.5 1420.4,585.5 1421.9,585.7 1423.4,584.2 1424.9,583.0 1426.4,583.0 1427.9,583.0 1429.4,583.4 1430.9,584.6 1432.4,584.9 1433.9,585.4 1435.4,586.3 1436.9,585.9 1438.4,584.8 1439.9,584.5 1441.4,585.0 1442.9,585.2 1444.4,586.2 1445.9,586.2 1447.4,585.2 1448.9,585.4 1450.4,585.4 1451.9,584.9 1453.4,585.0 1454.9,584.6 1456.4,582.8 1457.9,583.3 1459.4,584.1 1460.9,583.5 1462.4,582.4 1463.9,582.3 1465.4,583.3 1466.9,584.2 1468.4,583.4 1469.9,584.0 1471.4,584.5 1472.9,584.6 1474.4,585.0 1475.9,583.5 1477.4,582.1 1478.9,582.4 1480.4,583.5 1481.9,583.6 1483.4,582.3 1484.9,582.6 1486.4,584.5 1487.9,584.5 1489.4,582.9 1490.9,581.5 1492.4,581.2 1493.9,582.6 1495.4,584.3 1496.9,584.9 1498.4,585.7 1499.9,585.0 1501.4,584.4 1502.9,585.7 1504.4,586.0 1505.9,586.2 1507.4,586.7 1508.9,587.8 1510.4,589.4 1511.9,588.1 1513.4,587.4 1514.9,588.7 1516.4,590.1 1517.9,589.2 1519.4,588.4 1520.9,589.2 1522.4,589.1 1523.9,588.8 1525.4,589.4 1526.9,591.0 1528.4,590.9 1529.9,590.1 1531.4,590.5 1532.9,591.1 1534.4,590.6 1535.9,590.8 1537.4,590.3 1538.9,591.2 1540.4,592.0 1541.9,592.7 1543.4,593.7 1544.9,594.9 1546.4,594.0 1547.9,593.4 1549.4,593.6 1550.9,593.0 1552.4,592.8 1553.9,593.9 1555.4,594.5 1556.9,594.5 1558.4,595.3 1559.9,595.9 1561.4,596.8 1562.9,595.8 1564.4,594.0 1565.9,595.1 1567.4,595.6 1568.9,595.2 1570.4,595.7 1571.9,595.1 1573.4,595.3 1574.9,596.6 1576.4,597.5 1577.9,596.7 1579.4,596.8 1580.9,596.7 1582.4,596.0 1583.9,596.6 1585.4,598.1 1586.9,596.1 1588.4,595.9 1589.9,597.3 1591.4,596.9 1592.9,596.5 1594.4,596.5 1595.9,597.4 1597.4,598.0 1598.9,597.6 1600.4,596.5 1601.9,595.9 1603.4,595.0 1604.9,594.0 1606.4,596.1 1607.9,597.9 1609.4,597.3 1610.9,597.8 1612.4,597.8 1613.9,597.0 1615.4,596.9 1616.9,598.1 1618.4,598.0 1619.9,598.3 1621.4,599.4 1622.9,599.9 1624.4,599.3 1625.9,598.9 1627.4,599.2 1628.9,599.6 1630.4,598.4 1631.9,598.5 1633.4,599.4 1634.9,600.4 1636.4,600.9 1637.9,600.9 1639.4,600.3 1640.9,600.9 1642.4,603.0 1643.9,604.0 1645.4,602.7 1646.9,602.1 1648.4,603.0 1649.9,602.7 1651.4,602.5 1652.9,604.3 1654.4,605.0 1655.9,605.1 1657.4,604.0 1658.9,603.6 1660.4,605.3 1661.9,606.6 1663.4,607.4 1664.9,608.4 1666.4,609.7 1667.9,609.7 1669.4,608.7 1670.9,607.6 1672.4,607.6 1673.9,609.1 1675.4,609.7 1676.9,609.7 1678.4,609.6 1679.9,610.1 1681.4,610.5 1682.9,610.3 1684.4,609.9 1685.9,609.9 1687.4,610.8 1688.9,610.5 1690.4,609.2 1691.9,609.0 1693.4,609.4 1694.9,609.9 1696.4,609.9 1697.9,609.5 1699.4,610.0 1700.9,611.7 1702.4,611.5 1703.9,611.9 1705.4,613.2 1706.9,613.6 1708.4,613.2 1709.9,612.1 1711.4,612.6 1712.9,613.4 1714.4,612.7 1715.9,612.4 1717.4,613.6 1718.9,613.9 1720.4,612.8 1721.9,613.8 1723.4,613.9 1724.9,612.6 1726.4,612.7 1727.9,612.8 1729.4,611.9 1730.9,612.8 1732.4,613.7 1733.9,613.5 1735.4,612.6 1736.9,611.2 1738.4,611.8 1739.9,614.7 1741.4,617.2 1742.9,616.6 1744.4,615.9 1745.9,615.9 1747.4,615.9 1748.9,616.1 1750.4,617.5 1751.9,616.1 1753.4,614.7 1754.9,615.7 1756.4,616.9 1757.9,616.6 1759.4,616.0 1760.9,616.8 1762.4,617.7 1763.9,618.7 1765.4,618.5 1766.9,618.1 1768.4,616.7 1769.9,617.7 1771.4,619.7 1772.9,619.7 1774.4,618.8 1775.9,618.2 1777.4,618.4 1778.9,617.9 1780.4,616.9 1781.9,617.9 1783.4,618.2 1784.9,617.5 1786.4,617.5 1787.9,616.8 1789.4,616.8 1790.9,616.6 1792.4,614.7 1793.9,614.6 1795.4,614.9 1796.9,615.1 1798.4,615.1 1799.9,615.7 1801.4,616.8 1802.9,617.7 1804.4,618.4 1805.9,619.3 1807.4,619.4 1808.9,618.6 1810.4,617.4 1811.9,617.3 1813.4,616.9 1814.9,615.4 1816.4,615.4 1817.9,616.0 1819.4,616.2 1820.9,616.6 1822.4,617.4 1823.9,617.9 1825.4,615.9 1826.9,613.6 1828.4,613.1 1829.9,613.9 1831.4,615.4 1832.9,616.4 1834.4,615.7 1835.9,614.9 1837.4,616.2 1838.9,617.1 1840.4,615.9 1841.9,615.6 1843.4,616.4 1844.9,615.7 1846.4,613.3 1847.9,611.7 1849.4,613.3 1850.9,615.4 1852.4,614.9 1853.9,615.2 1855.4,615.3 1856.9,614.4 1858.4,613.9 1859.9,614.4 1861.4,615.5 1862.9,617.0 1864.4,618.0 1865.9,619.3 1867.4,618.6 1868.9,616.3 1870.4,614.6 1871.9,614.7 1873.4,615.0 1874.9,615.0 1876.4,614.5 1877.9,615.2 1879.4,616.5 1880.9,615.9 1882.4,615.1 1883.9,615.0 1885.4,616.2 1886.9,616.9 1888.4,615.5 1889.9,615.3 1891.4,615.8 1892.9,615.9 1894.4,615.6 1895.9,617.0 1897.4,617.1 1898.9,615.9 1900.4,615.0 1901.9,616.2 1903.4,617.8 1904.9,616.8 1906.4,614.8 1907.9,613.9 1909.4,614.5 1910.9,615.8 1912.4,615.0 1913.9,614.5 1915.4,614.3 1916.9,613.5 1918.4,614.8 1919.9,617.0 1921.4,617.8 1922.9,616.8 1924.4,615.8 1925.9,616.1 1927.4,616.2 1928.9,616.2 1930.4,615.8 1931.9,614.2 1933.4,614.8 1934.9,616.6 1936.4,615.6 1937.9,614.5 1939.4,614.0 1940.9,614.9 1942.4,615.2 1943.9,614.9 1945.4,616.2 1946.9,617.0 1948.4,617.5 1949.9,616.4 1951.4,617.1 1952.9,618.7 1954.4,619.2 1955.9,618.9 1957.4,618.0 1958.9,617.1 1960.4,616.9 1961.9,616.2 1963.4,615.5 1964.9,616.2 1966.4,616.8 1967.9,615.2 1969.4,612.9 1970.9,613.9 1972.4,615.4 1973.9,616.3 1975.4,617.3 1976.9,618.1 1978.4,618.2 1979.9,617.9 1981.4,617.6 1982.9,616.5 1984.4,617.2 1985.9,618.2 1987.4,616.9 1988.9,615.3 1990.4,615.3 1991.9,615.0 1993.4,614.5 1994.9,615.3 1996.4,615.7 1997.9,615.1 1999.4,614.6 2000.9,613.2 2002.4,614.1 2003.9,615.9 2005.4,616.7 2006.9,616.7 2008.4,615.5 2009.9,613.9 2011.4,612.8 2012.9,613.5 2014.4,614.9 2015.9,616.7 2017.4,617.2 2018.9,617.2 2020.4,618.2 2021.9,618.8 2023.4,617.8 2024.9,616.3 2026.4,616.2 2027.9,618.1 2029.4,619.3 2030.9,617.7 2032.4,616.0 2033.9,615.5 2035.4,614.1 2036.9,613.5 2038.4,614.8 2039.9,615.7 2041.4,615.5 2042.9,613.5 2044.4,614.3 2045.9,615.8 2047.4,616.0 2048.9,616.5 2050.4,616.6 2051.9,614.5 2053.4,613.4 2054.9,614.2 2056.4,615.7 2057.9,615.5 2059.4,614.6 2060.9,613.3 2062.4,613.6 2063.9,616.1 2065.4,618.1 2066.9,616.0 2068.4,615.0 2069.9,616.1 2071.4,615.2 2072.9,613.4 2074.4,614.2 2075.9,614.8 2077.4,615.3 2078.9,616.0 2080.4,616.7 2081.9,615.7 2083.4,614.8 2084.9,614.7 2086.4,613.4 2087.9,613.1 2089.4,614.1 2090.9,614.5 2092.4,615.5 2093.9,615.9 2095.4,616.0 2096.9,616.6 2098.4,616.6 2099.9,616.1 2101.4,615.9 2102.9,615.5 2104.4,614.4 2105.0,612.8"/>
<path stroke="#DE9C00" d="M31.4,414.0 32.9,413.0 34.4,412.3 35.9,411.7 37.4,411.3 38.9,412.2 40.4,414.5 41.9,415.9 43.4,415.7 44.9,415.2 46.4,415.0 47.9,415.0 49.4,415.1 50.9,414.7 52.4,415.1 53.9,414.6 55.4,413.7 56.9,413.3 58.4,415.1 59.9,416.8 61.4,415.2 62.9,414.0 64.4,414.7 65.9,415.5 67.4,415.0 68.9,413.0 70.4,411.8 71.9,412.1 73.4,412.4 74.9,412.7 76.4,414.5 77.9,414.4 79.4,414.8 80.9,415.6 82.4,414.4 83.9,414.0 85.4,414.3 86.9,414.8 88.4,414.6 89.9,414.6 91.4,414.9 92.9,415.5 94.4,414.6 95.9,413.7 97.4,413.7 98.9,413.7 100.4,415.6 101.9,415.9 103.4,415.3 104.9,415.4 106.4,415.9 107.9,415.3 109.4,414.5 110.9,414.6 112.4,415.9 113.9,416.5 115.4,415.5 116.9,415.9 118.4,416.2 119.9,416.7 121.4,417.4 122.9,416.3 124.4,414.7 125.9,414.1 127.4,413.9 128.9,414.4 130.4,415.1 131.9,416.4 133.4,415.1 134.9,413.4 136.4,414.7 137.9,414.5 139.4,414.7 140.9,416.9 142.4,418.8 143.9,418.2 145.4,415.5 146.9,414.9 148.4,416.5 149.9,416.1 151.4,415.5 152.9,416.6 154.4,416.0 155.9,414.7 157.4,413.7 158.9,413.9 160.4,414.1 161.9,413.8 163.4,413.2 164.9,413.6 166.4,414.5 167.9,414.6 169.4,414.9 170.9,415.2 172.4,415.6 173.9,415.9 175.4,416.4 176.9,417.1 178.4,416.2 179.9,414.8 181.4,415.0 182.9,415.7 184.4,416.1 185.9,416.2 187.4,415.1 188.9,416.0 190.4,416.2 191.9,414.7 193.4,415.4 194.9,418.0 196.4,417.8 197.9,416.5 199.4,415.9 200.9,416.4 202.4,416.0 203.9,416.1 205.4,417.3 206.9,417.9 208.4,416.5 209.9,415.1 211.4,415.3 212.9,415.9 214.4,417.3 215.9,416.8 217.4,415.7 218.9,415.7 220.4,416.7 221.9,418.1 223.4,418.7 224.9,417.3 226.4,415.3 227.9,415.5 229.4,416.7 230.9,416.8 232.4,416.4 233.9,415.0 235.4,414.5 236.9,416.2 238.4,417.9 239.9,418.5 241.4,418.0 242.9,418.5 244.4,419.7 245.9,419.0 247.4,417.2 248.9,416.5 250.4,417.1 251.9,417.4 253.4,418.3 254.9,418.4 256.4,418.5 257.9,418.9 259.4,418.2 260.9,417.3 262.4,416.4 263.9,416.5 265.4,416.7 266.9,417.1 268.4,417.3 269.9,416.3 271.4,415.5 272.9,414.2 274.4,412.9 275.9,412.1 277.4,413.7 278.9,414.5 280.4,414.0 281.9,413.2 283.4,413.0 284.9,413.5 286.4,414.4 287.9,415.1 289.4,415.5 290.9,418.0 292.4,417.6 293.9,416.5 295.4,416.7 296.9,415.0 298.4,413.7 299.9,413.4 301.4,414.9 302.9,414.8 304.4,414.7 305.9,414.3 307.4,413.1 308.9,413.5 310.4,414.5 311.9,415.4 313.4,414.0 314.9,411.6 316.4,411.5 317.9,410.9 319.4,411.1 320.9,412.9 322.4,413.6 323.9,411.4 325.4,410.9 326.9,411.5 328.4,412.5 329.9,412.6 331.4,411.3 332.9,410.8 334.4,411.7 335.9,412.3 337.4,413.4 338.9,414.1 340.4,413.4 341.9,411.5 343.4,410.1 344.9,410.3 346.4,411.2 347.9,411.8 349.4,411.9 350.9,412.0 352.4,412.1 353.9,411.9 355.4,412.6 356.9,412.9 358.4,411.5 359.9,409.4 361.4,408.5 362.9,407.4 364.4,407.6 365.9,408.7 367.4,408.1 368.9,407.3 370.4,408.4 371.9,408.2 373.4,405.7 374.9,403.6 376.4,402.9 377.9,404.1 379.4,405.6 380.9,405.5 382.4,404.7 383.9,403.6 385.4,402.4 386.9,401.4 388.4,401.6 389.9,401.7 391.4,400.9 392.9,400.5 394.4,401.0 395.9,401.6 397.4,401.8 398.9,402.1 400.4,401.7 401.9,401.6 403.4,402.4 404.9,403.2 406.4,402.8 407.9,401.9 409.4,402.4 410.9,402.6 412.4,402.6 413.9,403.5 415.4,403.5 416.9,402.5 418.4,403.2 419.9,403.4 421.4,401.5 422.9,400.7 424.4,402.0 425.9,402.3 427.4,403.0 428.9,404.6 430.4,403.1 431.9,400.8 433.4,400.0 434.9,399.2 436.4,397.5 437.9,394.3 439.4,390.9 440.9,390.1 442.4,389.9 443.9,389.4 445.4,388.3 446.9,388.5 448.4,389.9 449.9,388.6 451.4,386.8 452.9,384.9 454.4,382.7 455.9,380.7 457.4,380.7 458.9,380.2 460.4,378.8 461.9,378.7 463.4,378.0 464.9,375.3 466.4,373.6 467.9,372.5 469.4,371.4 470.9,370.7 472.4,368.7 473.9,366.6 475.4,366.1 476.9,365.2 478.4,364.2 479.9,362.6 481.4,361.4 482.9,360.0 484.4,359.4 485.9,358.1 487.4,356.5 488.9,354.6 490.4,352.0 491.9,349.5 493.4,347.9 494.9,347.0 496.4,346.0 497.9,344.5 499.4,343.3 500.9,342.9 502.4,341.4 503.9,338.8 505.4,336.4 506.9,334.8 508.4,335.2 509.9,334.3 511.4,331.7 512.9,330.8 514.4,328.7 515.9,326.5 517.4,325.5 518.9,324.4 520.4,323.6 521.9,322.6 523.4,321.4 524.9,320.4 526.4,318.5 527.9,316.4 529.4,315.5 530.9,315.2 532.4,314.9 533.9,313.6 535.4,312.2 536.9,311.1 538.4,310.8 539.9,309.2 541.4,306.6 542.9,305.5 544.4,305.0 545.9,304.0 547.4,302.9 548.9,300.8 550.4,298.4 551.9,296.8 553.4,294.3 554.9,292.1 556.4,291.1 557.9,289.7 559.4,286.7 560.9,285.4 562.4,285.5 563.9,283.3 565.4,278.9 566.9,276.4 568.4,276.3 569.9,275.8 571.4,274.9 572.9,273.6 574.4,271.0 575.9,269.0 577.4,268.7 578.9,268.9 580.4,268.8 581.9,267.7 583.4,266.9 584.9,267.5 586.4,268.4 587.9,270.6 589.4,274.2 590.9,274.8 592.4,273.8 593.9,274.0 595.4,276.5 596.9,279.0 598.4,278.5 599.9,278.7 601.4,278.2 602.9,279.5 604.4,282.1 605.9,283.3 607.4,284.6 608.9,284.0 610.4,284.4 611.9,286.2 613.4,288.8 614.9,290.8 616.4,291.8 617.9,292.8 619.4,295.6 620.9,298.8 622.4,298.5 623.9,297.7 625.4,298.4 626.9,299.5 628.4,301.7 629.9,302.1 631.4,303.1 632.9,304.6 634.4,306.2 635.9,308.0 637.4,309.5 638.9,309.3 640.4,308.4 641.9,309.0 643.4,311.0 644.9,312.6 646.4,312.8 647.9,312.5 649.4,312.1 650.9,311.8 652.4,311.6 653.9,310.7 655.4,309.7 656.9,309.2 658.4,308.8 659.9,306.9 661.4,305.7 662.9,304.6 664.4,304.2 665.9,306.2 667.4,306.5 668.9,304.2 670.4,302.5 671.9,300.2 673.4,298.6 674.9,298.6 676.4,297.7 677.9,293.8 679.4,290.3 680.9,286.8 682.4,282.9 683.9,277.9 685.4,273.4 686.9,269.9 688.4,265.2 689.9,258.4 691.4,252.8 692.9,245.8 694.4,239.8 695.9,235.2 697.4,229.7 698.9,220.9 700.4,213.8 701.9,209.1 703.4,204.7 704.9,203.2 706.4,203.2 707.9,200.7 709.4,197.9 710.9,196.5 712.4,196.1 713.9,196.6 715.4,196.6 716.9,196.2 718.4,197.2 719.9,199.2 721.4,201.0 722.9,202.0 724.4,204.6 725.9,210.5 727.4,218.1 728.9,225.8 730.4,232.5 731.9,239.6 733.4,250.3 734.9,262.4 736.4,272.8 737.9,283.8 739.4,294.8 740.9,302.6 742.4,308.7 743.9,314.8 745.4,321.4 746.9,328.4 748.4,337.0 749.9,343.6 751.4,347.7 752.9,351.5 754.4,355.1 755.9,357.3 757.4,359.4 758.9,362.5 760.4,366.3 761.9,369.4 763.4,371.5 764.9,372.5 766.4,374.2 767.9,376.2 769.4,377.2 770.9,379.9 772.4,382.1 773.9,382.6 775.4,381.2 776.9,381.9 778.4,384.1 779.9,385.0 781.4,385.3 782.9,385.3 784.4,386.5 785.9,388.2 787.4,389.8 788.9,392.5 790.4,395.0 791.9,397.6 793.4,398.3 794.9,399.0 796.4,399.8 797.9,400.6 799.4,402.5 800.9,404.2 802.4,404.4 803.9,404.6 805.4,405.3 806.9,406.1 808.4,405.6 809.9,405.0 811.4,405.0 812.9,405.9 814.4,406.2 815.9,406.8 817.4,407.3 818.9,407.7 820.4,407.5 821.9,408.0 823.4,408.0 824.9,408.5 826.4,408.3 827.9,408.5 829.4,409.5 830.9,410.6 832.4,410.8 833.9,410.3 835.4,411.0 836.9,411.2 838.4,410.2 839.9,410.0 841.4,411.6 842.9,412.0 844.4,411.7 845.9,412.4 847.4,414.5 848.9,416.0 850.4,417.0 851.9,417.2 853.4,416.0 854.9,415.2 856.4,416.4 857.9,416.0 859.4,415.2 860.9,415.0 862.4,414.8 863.9,415.3 865.4,415.5 866.9,415.5 868.4,415.4 869.9,415.4 871.4,415.3 872.9,415.1 874.4,415.9 875.9,416.3 877.4,416.5 878.9,416.9 880.4,416.8 881.9,417.4 883.4,418.0 884.9,417.5 886.4,417.4 887.9,415.7 889.4,414.5 890.9,415.9 892.4,415.9 893.9,416.0 895.4,417.0 896.9,416.6 898.4,415.3 899.9,415.1 901.4,415.0 902.9,414.2 904.4,413.8 905.9,414.0 907.4,413.7 908.9,413.9 910.4,413.3 911.9,413.0 913.4,413.7 914.9,415.1 916.4,415.4 917.9,414.6 919.4,415.3 920.9,417.1 922.4,416.7 923.9,416.0 925.4,414.6 926.9,413.5 928.4,413.2 929.9,413.5 931.4,413.4 932.9,414.4 934.4,414.4 935.9,414.1 937.4,413.6 938.9,412.7 940.4,413.3 941.9,414.1 943.4,414.4 944.9,415.0 946.4,416.0 947.9,415.6 949.4,415.6 950.9,414.4 952.4,413.4 953.9,414.1 955.4,414.3 956.9,414.9 958.4,415.1 959.9,414.4 961.4,414.6 962.9,415.4 964.4,413.7 965.9,412.8 967.4,413.0 968.9,412.9 970.4,413.4 971.9,413.9 973.4,416.8 974.9,417.9 976.4,416.6 977.9,415.0 979.4,414.0 980.9,413.5 982.4,412.7 983.9,412.9 985.4,413.8 986.9,414.7 988.4,415.7 989.9,416.7 991.4,418.1 992.9,416.6 994.4,414.4 995.9,413.5 997.4,411.9 998.9,413.1 1000.4,416.1 1001.9,417.1 1003.4,416.9 1004.9,416.3 1006.4,417.0 1007.9,419.0 1009.4,418.7 1010.9,416.2 1012.4,416.2 1013.9,418.1 1015.4,418.2 1016.9,418.8 1018.4,419.5 1019.9,419.1 1021.4,417.9 1022.9,417.8 1024.4,419.7 1025.9,421.0 1027.4,418.0 1028.9,415.6 1030.4,415.0 1031.9,414.2 1033.4,413.9 1034.9,415.3 1036.4,416.9 1037.9,417.9 1039.4,420.0 1040.9,419.3 1042.4,416.9 1043.9,416.0 1045.4,416.8 1046.9,414.8 1048.4,413.4 1049.9,415.2 1051.4,414.3 1052.9,414.4 1054.4,416.4 1055.9,416.2 1057.4,415.0 1058.9,414.6 1060.4,414.9 1061.9,416.9 1063.4,417.4 1064.9,414.2 1066.4,412.4 1067.9,413.9 1069.4,416.5 1070.9,417.3 1072.4,416.5 1073.9,414.8 1075.4,413.1 1076.9,412.0 1078.4,413.1 1079.9,415.0 1081.4,414.2 1082.9,413.0 1084.4,411.8 1085.9,410.3 1087.4,410.8 1088.9,412.6 1090.4,414.2 1091.9,414.4 1093.4,414.2 1094.9,413.2 1096.4,411.6 1097.9,411.5 1099.4,412.2 1100.9,413.2 1102.4,412.9 1103.9,411.7 1105.4,411.4 1106.9,413.7 1108.4,414.3 1109.9,413.5 1111.4,413.3 1112.9,412.8 1114.4,411.6 1115.9,411.8 1117.4,412.2 1118.9,411.3 1120.4,410.8 1121.9,410.5 1123.4,409.9 1124.9,408.9 1126.4,408.9 1127.9,408.7 1129.4,408.0 1130.9,408.3 1132.4,410.3 1133.9,411.2 1135.4,412.8 1136.9,412.8 1138.4,412.9 1139.9,413.2 1141.4,412.1 1142.9,409.9 1144.4,409.4 1145.9,410.2 1147.4,409.9 1148.9,409.8 1150.4,410.6 1151.9,410.2 1153.4,409.0 1154.9,409.1 1156.4,409.0 1157.9,409.6 1159.4,409.9 1160.9,411.5 1162.4,412.6 1163.9,412.3 1165.4,412.4 1166.9,410.3 1168.4,407.8 1169.9,408.1 1171.4,408.2 1172.9,409.2 1174.4,410.1 1175.9,409.9 1177.4,409.6 1178.9,409.4 1180.4,409.9 1181.9,409.1 1183.4,408.8 1184.9,410.3 1186.4,410.2 1187.9,409.3 1189.4,408.7 1190.9,408.4 1192.4,409.0 1193.9,408.8 1195.4,406.4 1196.9,404.9 1198.4,405.0 1199.9,406.1 1201.4,406.6 1202.9,406.1 1204.4,405.9 1205.9,404.2 1207.4,402.2 1208.9,403.1 1210.4,403.7 1211.9,403.7 1213.4,404.0 1214.9,402.7 1216.4,402.3 1217.9,402.8 1219.4,403.3 1220.9,403.4 1222.4,404.3 1223.9,404.1 1225.4,403.5 1226.9,402.8 1228.4,402.4 1229.9,401.0 1231.4,399.6 1232.9,399.5 1234.4,398.5 1235.9,397.8 1237.4,398.1 1238.9,397.6 1240.4,397.4 1241.9,397.1 1243.4,394.5 1244.9,393.8 1246.4,398.0 1247.9,400.7 1249.4,398.3 1250.9,396.3 1252.4,395.0 1253.9,396.0 1255.4,396.9 1256.9,395.4 1258.4,394.3 1259.9,393.6 1261.4,394.3 1262.9,394.9 1264.4,393.3 1265.9,391.8 1267.4,392.9 1268.9,394.3 1270.4,394.6 1271.9,392.9 1273.4,390.7 1274.9,389.6 1276.4,388.9 1277.9,390.4 1279.4,391.7 1280.9,392.7 1282.4,392.0 1283.9,390.0 1285.4,390.5 1286.9,390.9 1288.4,390.1 1289.9,387.9 1291.4,387.5 1292.9,390.1 1294.4,391.0 1295.9,390.1 1297.4,389.6 1298.9,389.0 1300.4,389.6 1301.9,389.2 1303.4,388.6 1304.9,388.1 1306.4,387.0 1307.9,387.6 1309.4,389.2 1310.9,389.0 1312.4,388.5 1313.9,386.8 1315.4,386.9 1316.9,387.4 1318.4,387.2 1319.9,386.2 1321.4,384.9 1322.9,383.0 1324.4,382.5 1325.9,382.6 1327.4,384.1 1328.9,386.2 1330.4,386.3 1331.9,384.3 1333.4,381.9 1334.9,381.5 1336.4,381.1 1337.9,381.1 1339.4,380.1 1340.9,378.8 1342.4,379.5 1343.9,380.6 1345.4,380.5 1346.9,378.6 1348.4,378.4 1349.9,378.3 1351.4,380.1 1352.9,380.1 1354.4,376.5 1355.9,374.5 1357.4,375.5 1358.9,376.7 1360.4,375.8 1361.9,374.8 1363.4,375.7 1364.9,377.6 1366.4,375.7 1367.9,374.8 1369.4,375.4 1370.9,376.0 1372.4,376.9 1373.9,377.6 1375.4,377.9 1376.9,376.7 1378.4,376.0 1379.9,375.4 1381.4,373.7 1382.9,373.4 1384.4,373.8 1385.9,373.9 1387.4,372.9 1388.9,371.8 1390.4,372.0 1391.9,370.4 1393.4,369.7 1394.9,371.8 1396.4,374.1 1397.9,374.5 1399.4,371.4 1400.9,370.2 1402.4,369.7 1403.9,368.5 1405.4,367.3 1406.9,367.4 1408.4,369.1 1409.9,370.4 1411.4,369.1 1412.9,369.8 1414.4,369.5 1415.9,368.7 1417.4,369.4 1418.9,369.3 1420.4,368.9 1421.9,368.0 1423.4,368.3 1424.9,368.6 1426.4,368.0 1427.9,366.7 1429.4,367.3 1430.9,367.5 1432.4,368.0 1433.9,369.5 1435.4,369.7 1436.9,370.1 1438.4,370.2 1439.9,368.4 1441.4,367.0 1442.9,366.2 1444.4,366.3 1445.9,368.1 1447.4,368.6 1448.9,368.4 1450.4,367.8 1451.9,368.6 1453.4,369.8 1454.9,369.1 1456.4,367.5 1457.9,366.9 1459.4,367.9 1460.9,369.9 1462.4,370.2 1463.9,368.7 1465.4,364.9 1466.9,364.1 1468.4,365.0 1469.9,366.3 1471.4,367.9 1472.9,368.1 1474.4,368.0 1475.9,367.0 1477.4,365.2 1478.9,365.3 1480.4,368.6 1481.9,370.2 1483.4,369.0 1484.9,367.6 1486.4,366.8 1487.9,367.1 1489.4,367.1 1490.9,364.6 1492.4,365.6 1493.9,366.5 1495.4,366.3 1496.9,366.7 1498.4,366.5 1499.9,367.6 1501.4,370.1 1502.9,371.6 1504.4,370.8 1505.9,369.8 1507.4,370.0 1508.9,370.6 1510.4,370.8 1511.9,369.8 1513.4,369.3 1514.9,369.1 1516.4,368.6 1517.9,368.7 1519.4,369.7 1520.9,371.7 1522.4,372.3 1523.9,372.2 1525.4,372.9 1526.9,375.6 1528.4,375.4 1529.9,372.7 1531.4,372.6 1532.9,373.6 1534.4,375.3 1535.9,375.5 1537.4,374.8 1538.9,375.3 1540.4,374.0 1541.9,373.5 1543.4,374.8 1544.9,375.8 1546.4,377.0 1547.9,379.4 1549.4,379.0 1550.9,378.0 1552.4,378.0 1553.9,378.6 1555.4,380.4 1556.9,382.8 1558.4,383.1 1559.9,380.6 1561.4,380.4 1562.9,382.8 1564.4,383.4 1565.9,382.9 1567.4,384.4 1568.9,387.1 1570.4,388.5 1571.9,386.5 1573.4,385.5 1574.9,385.2 1576.4,383.5 1577.9,383.1 1579.4,385.3 1580.9,387.4 1582.4,386.8 1583.9,384.9 1585.4,384.4 1586.9,384.4 1588.4,385.9 1589.9,386.2 1591.4,383.7 1592.9,381.8 1594.4,382.0 1595.9,383.7 1597.4,384.9 1598.9,384.2 1600.4,385.2 1601.9,385.8 1603.4,386.4 1604.9,388.6 1606.4,388.0 1607.9,384.4 1609.4,381.9 1610.9,384.5 1612.4,387.0 1613.9,386.3 1615.4,386.0 1616.9,386.2 1618.4,386.7 1619.9,388.3 1621.4,389.0 1622.9,388.3 1624.4,386.0 1625.9,388.1 1627.4,391.5 1628.9,390.2 1630.4,388.5 1631.9,387.9 1633.4,389.2 1634.9,391.5 1636.4,391.1 1637.9,388.4 1639.4,387.7 1640.9,390.3 1642.4,392.3 1643.9,392.0 1645.4,392.8 1646.9,396.0 1648.4,398.3 1649.9,397.7 1651.4,397.7 1652.9,400.3 1654.4,401.4 1655.9,400.8 1657.4,400.3 1658.9,399.5 1660.4,398.4 1661.9,397.7 1663.4,399.2 1664.9,399.7 1666.4,400.2 1667.9,402.0 1669.4,403.7 1670.9,404.5 1672.4,404.9 1673.9,403.9 1675.4,404.0 1676.9,406.2 1678.4,404.7 1679.9,403.4 1681.4,404.1 1682.9,404.3 1684.4,404.1 1685.9,405.9 1687.4,405.4 1688.9,403.4 1690.4,402.7 1691.9,402.6 1693.4,403.8 1694.9,405.0 1696.4,404.9 1697.9,406.1 1699.4,408.3 1700.9,408.1 1702.4,407.6 1703.9,407.7 1705.4,406.7 1706.9,405.3 1708.4,406.7 1709.9,409.1 1711.4,410.0 1712.9,409.4 1714.4,406.9 1715.9,407.6 1717.4,409.6 1718.9,409.5 1720.4,411.3 1721.9,412.7 1723.4,414.2 1724.9,415.5 1726.4,415.3 1727.9,414.8 1729.4,414.7 1730.9,415.3 1732.4,415.2 1733.9,414.5 1735.4,414.8 1736.9,413.9 1738.4,414.1 1739.9,414.8 1741.4,414.9 1742.9,415.4 1744.4,415.1 1745.9,415.9 1747.4,415.9 1748.9,414.3 1750.4,414.2 1751.9,416.1 1753.4,415.9 1754.9,413.9 1756.4,410.8 1757.9,409.5 1759.4,412.6 1760.9,414.7 1762.4,414.2 1763.9,412.5 1765.4,410.4 1766.9,411.2 1768.4,413.0 1769.9,413.0 1771.4,413.2 1772.9,414.5 1774.4,416.8 1775.9,415.6 1777.4,412.8 1778.9,411.9 1780.4,414.2 1781.9,414.1 1783.4,413.4 1784.9,414.3 1786.4,414.8 1787.9,415.0 1789.4,414.3 1790.9,414.8 1792.4,415.7 1793.9,414.4 1795.4,411.6 1796.9,411.2 1798.4,413.8 1799.9,415.6 1801.4,414.4 1802.9,413.5 1804.4,412.5 1805.9,413.3 1807.4,414.8 1808.9,415.3 1810.4,414.3 1811.9,413.7 1813.4,414.1 1814.9,413.3 1816.4,412.6 1817.9,410.2 1819.4,410.8 1820.9,411.9 1822.4,409.7 1823.9,408.0 1825.4,409.4 1826.9,410.5 1828.4,410.9 1829.9,411.7 1831.4,411.5 1832.9,412.1 1834.4,411.8 1835.9,411.2 1837.4,410.2 1838.9,410.2 1840.4,411.9 1841.9,413.1 1843.4,414.6 1844.9,414.9 1846.4,414.2 1847.9,413.9 1849.4,413.5 1850.9,412.5 1852.4,411.9 1853.9,414.0 1855.4,415.1 1856.9,412.7 1858.4,411.7 1859.9,413.6 1861.4,414.4 1862.9,415.1 1864.4,415.6 1865.9,414.4 1867.4,412.0 1868.9,411.0 1870.4,411.7 1871.9,412.6 1873.4,414.8 1874.9,414.6 1876.4,413.2 1877.9,413.3 1879.4,414.9 1880.9,415.6 1882.4,415.1 1883.9,413.4 1885.4,411.4 1886.9,413.0 1888.4,413.2 1889.9,411.4 1891.4,409.6 1892.9,408.6 1894.4,409.8 1895.9,411.3 1897.4,412.4 1898.9,414.5 1900.4,415.1 1901.9,412.7 1903.4,412.3 1904.9,411.7 1906.4,412.4 1907.9,412.0 1909.4,410.9 1910.9,412.8 1912.4,413.1 1913.9,412.0 1915.4,410.2 1916.9,408.8 1918.4,409.8 1919.9,411.2 1921.4,411.9 1922.9,411.3 1924.4,412.8 1925.9,413.6 1927.4,413.1 1928.9,411.1 1930.4,410.3 1931.9,410.9 1933.4,410.4 1934.9,410.1 1936.4,410.6 1937.9,413.0 1939.4,414.7 1940.9,414.9 1942.4,414.5 1943.9,413.8 1945.4,412.8 1946.9,412.6 1948.4,413.8 1949.9,413.9 1951.4,413.2 1952.9,411.3 1954.4,410.2 1955.9,408.5 1957.4,408.6 1958.9,410.3 1960.4,410.8 1961.9,411.1 1963.4,412.5 1964.9,413.9 1966.4,412.3 1967.9,410.9 1969.4,412.4 1970.9,412.8 1972.4,412.3 1973.9,412.7 1975.4,412.9 1976.9,414.6 1978.4,415.3 1979.9,414.1 1981.4,413.1 1982.9,412.0 1984.4,411.3 1985.9,411.3 1987.4,410.5 1988.9,410.2 1990.4,411.0 1991.9,411.3 1993.4,412.7 1994.9,413.9 1996.4,412.9 1997.9,413.2 1999.4,414.3 2000.9,415.0 2002.4,413.7 2003.9,413.7 2005.4,413.5 2006.9,412.5 2008.4,411.6 2009.9,410.4 2011.4,411.3 2012.9,412.7 2014.4,413.1 2015.9,413.2 2017.4,412.6 2018.9,411.8 2020.4,410.5 2021.9,412.7 2023.4,414.6 2024.9,413.4 2026.4,413.4 2027.9,413.7 2029.4,412.8 2030.9,410.8 2032.4,410.1 2033.9,410.7 2035.4,411.1 2036.9,410.8 2038.4,411.8 2039.9,412.8 2041.4,412.1 2042.9,412.2 2044.4,413.6 2045.9,413.8 2047.4,411.7 2048.9,412.1 2050.4,413.4 2051.9,414.4 2053.4,415.0 2054.9,414.0 2056.4,411.9 2057.9,412.7 2059.4,413.9 2060.9,413.8 2062.4,413.2 2063.9,411.2 2065.4,410.2 2066.9,410.7 2068.4,412.7 2069.9,412.7 2071.4,410.9 2072.9,410.5 2074.4,412.1 2075.9,413.5 2077.4,412.2 2078.9,411.9 2080.4,411.9 2081.9,411.3 2083.4,409.0 2084.9,407.4 2086.4,408.9 2087.9,410.3 2089.4,410.5 2090.9,411.0 2092.4,411.7 2093.9,411.3 2095.4,413.0 2096.9,414.6 2098.4,414.0 2099.9,412.7 2101.4,411.9 2102.9,412.0 2104.4,412.9 2105.0,415.5"/>
</g>
<g fill="#000" shape-rendering="crispEdges">
<rect x="8" y="8" width="2121" height="6"/>
<rect x="8" y="1561" width="2121" height="7"/>
<rect x="8" y="8" width="6" height="1560"/>
<rect x="2123" y="8" width="6" height="1560"/>
<rect x="86" y="1565" width="6" height="30"/>
<rect x="374" y="1565" width="6" height="30"/>
<rect x="662" y="1565" width="6" height="30"/>
<rect x="950" y="1565" width="6" height="30"/>
<rect x="1238" y="1565" width="6" height="30"/>
<rect x="1526" y="1565" width="6" height="30"/>
<rect x="1814" y="1565" width="6" height="30"/>
<rect x="2102" y="1565" width="6" height="30"/>
<rect x="230" y="1565" width="6" height="15"/>
<rect x="518" y="1565" width="6" height="15"/>
<rect x="806" y="1565" width="6" height="15"/>
<rect x="1094" y="1565" width="6" height="15"/>
<rect x="1382" y="1565" width="6" height="15"/>
<rect x="1670" y="1565" width="6" height="15"/>
<rect x="1958" y="1565" width="6" height="15"/>
</g>
<g font-size="65.5" text-anchor="middle" transform="translate(0,1666) scale(1,1.045) translate(0,-1666)">
<text x="89" y="1666">500</text>
<text x="377" y="1666">1000</text>
<text x="665" y="1666">1500</text>
<text x="953" y="1666">2000</text>
<text x="1241" y="1666">2500</text>
<text x="1529" y="1666">3000</text>
<text x="1817" y="1666">3500</text>
<text x="2105" y="1666">4000</text>
</g>
<text x="756.9" y="1802" font-size="80"><tspan letter-spacing="0.7">Raman </tspan>Shift (cm<tspan font-size="52" dy="-34">-1</tspan><tspan dy="34" dx="4.7">)</tspan></text>
<g font-size="59.1">
<text id="lab0" x="51" y="340">f) R<tspan font-size="39" dy="16">HY-5</tspan><tspan dy="-16">:0.75%</tspan></text>
<text id="lab1" x="51.2" y="580">e) R<tspan font-size="39" dy="16">JF-18</tspan><tspan dy="-16">:0.68%</tspan></text>
<text id="lab2" x="49" y="732">d) R<tspan font-size="39" dy="16">YX-12</tspan><tspan dy="-16">:0.66%</tspan></text>
<text id="lab3" x="52.4" y="922">c) R<tspan font-size="39" dy="16">YCW-2</tspan><tspan dy="-16">:0.58%</tspan></text>
<text id="lab4" x="57.4" y="1207">b) R<tspan font-size="39" dy="16">MHJ-10</tspan><tspan dy="-16">:0.5%</tspan></text>
<text id="lab5" x="64.4" y="1341">a) R<tspan font-size="39" dy="16">QSY-2</tspan><tspan dy="-16">:0.44%</tspan></text>
</g>
<text id="d1" x="462" y="190" font-size="80">D1</text>
<text id="g" x="763" y="180" font-size="80">G</text>
<g stroke="#FF8000" fill="none" stroke-width="6" stroke-dasharray="37.6 13.3 11.5 13.3">
<path d="M569.3,1338.5 L570.9,1300 L573,1244 L574.6,1206 L575.6,1168 L576.3,1106 L577,1000 L578.2,760 L580.3,167"/>
<path d="M713.9,1317.4 L714.1,1000 L715.5,240 L716.5,202 L717.6,174"/>
</g>
<g fill="#FF8000" stroke="none">
<rect x="600" y="177" width="100" height="7"/>
<path d="M569.9,180.4 L634.1,165 L619.1,177 L619.1,184 L634.1,196 Z"/>
<path d="M728,180.4 L662.9,165 L679.1,177 L679.1,184 L662.9,196 Z"/>
<path d="M576.5,258.9 L542.9,235 L535.1,255 Z"/>
<path d="M728.1,235.8 L766.2,212.1 L772.9,232.5 Z"/>
</g>
<g stroke="#FF8000" fill="none" stroke-width="2.5">
<path d="M497.8,202.9 C505,215 522,232 540,241.8"/>
<path d="M804.3,184.4 C800,203 785,216 769.5,222.8"/>
</g>
</svg></body></html>
